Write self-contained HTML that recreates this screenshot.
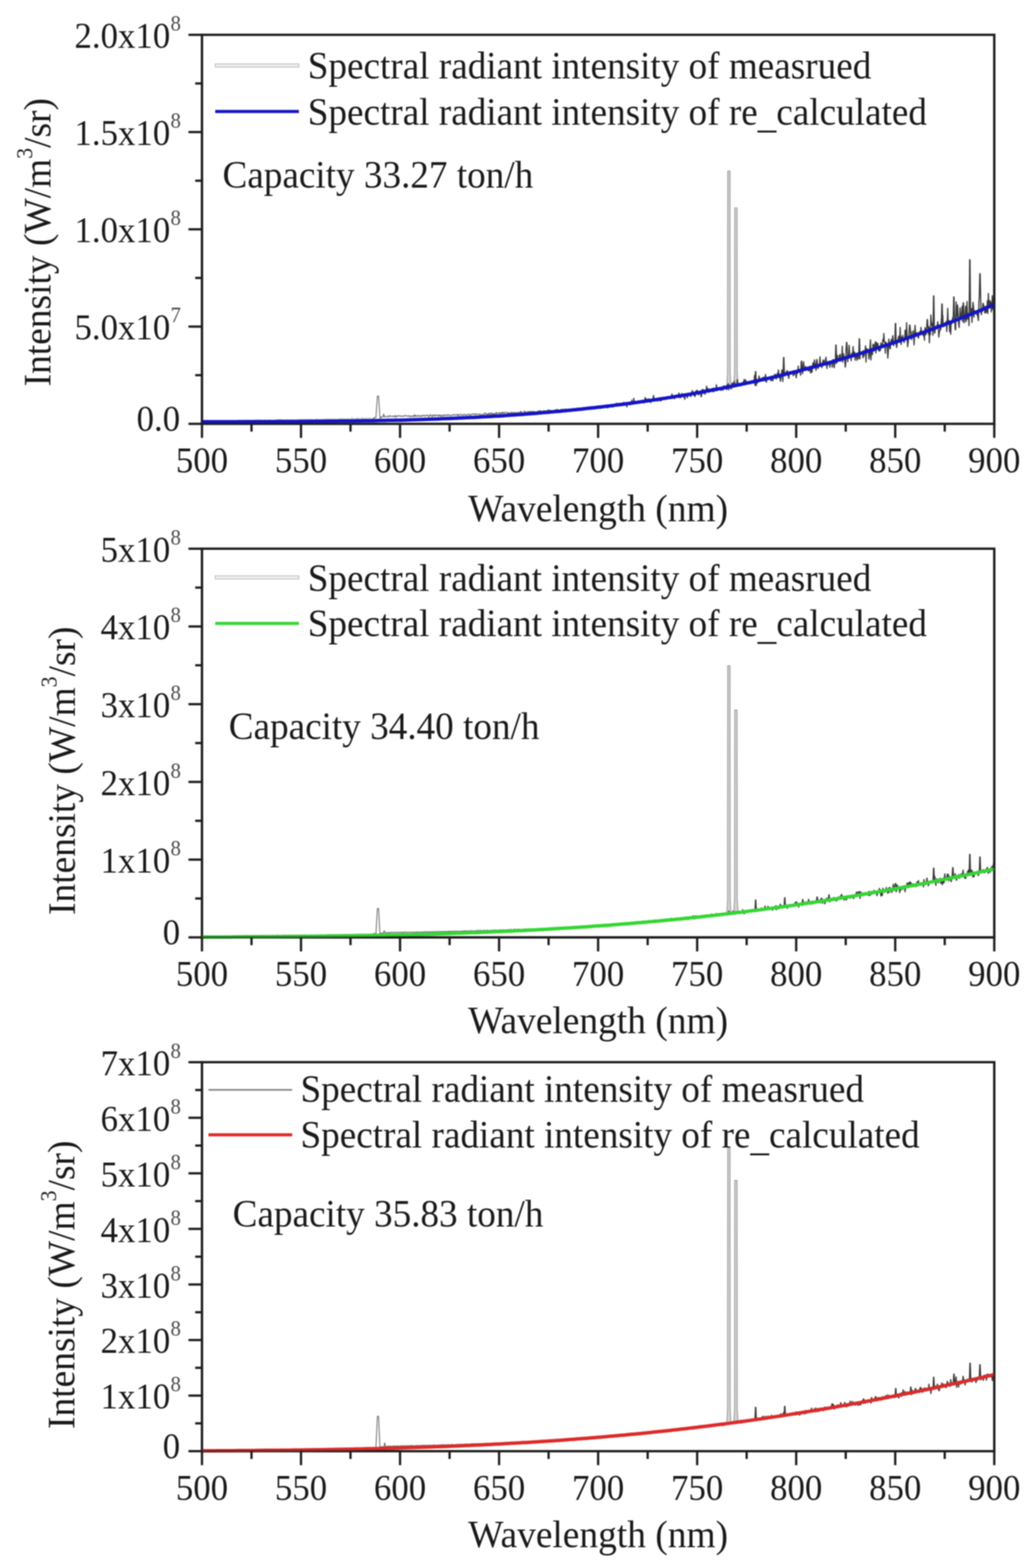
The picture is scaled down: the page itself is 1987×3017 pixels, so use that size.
<!DOCTYPE html><html><head><meta charset="utf-8"><title>Spectral radiant intensity</title><style>html,body{margin:0;padding:0;background:#fff}svg{display:block;filter:blur(0.8px)}</style></head><body>
<svg width="1987" height="3017" viewBox="0 0 1987 3017" font-family="'Liberation Serif', 'Times New Roman', serif">
<rect width="1987" height="3017" fill="#fff"/>
<g><path d="M1397.8,746.3 L1399.4,719.3 L1399.8,329.0 L1404.2,329.0 L1404.6,719.3 L1406.2,746.3" fill="#d4d4d4" stroke="#9a9a9a" stroke-width="1.7" stroke-linejoin="round"/><path d="M1411.3,743.6 L1412.9,716.6 L1413.3,400.0 L1417.7,400.0 L1418.1,716.6 L1419.7,743.6" fill="#d4d4d4" stroke="#9a9a9a" stroke-width="1.7" stroke-linejoin="round"/><polyline points="388.5,815.0 389.5,814.1 390.4,814.1 391.4,815.1 392.3,814.8 393.3,814.9 394.2,814.2 395.2,814.5 396.1,813.9 397.1,815.4 398.0,813.2 399.0,814.2 399.9,813.6 400.9,814.0 401.8,814.1 402.8,813.5 403.7,813.2 404.7,813.8 405.6,813.7 406.6,813.1 407.6,813.9 408.5,814.3 409.5,813.0 410.4,813.6 411.4,814.3 412.3,813.5 413.3,813.2 414.2,813.6 415.2,813.7 416.1,812.7 417.1,812.0 418.0,812.7 419.0,812.9 419.9,812.1 420.9,811.8 421.8,812.4 422.8,811.8 423.7,811.4 424.7,812.1 425.6,812.4 426.6,811.6 427.6,811.6 428.5,811.0 429.5,812.4 430.4,811.9 431.4,811.9 432.3,812.4 433.3,811.2 434.2,810.8 435.2,811.6 436.1,810.1 437.1,810.4 438.0,810.4 439.0,810.5 439.9,810.1 440.9,811.5 441.8,810.1 442.8,810.1 443.7,811.5 444.7,810.1 445.6,810.4 446.6,809.6 447.6,810.3 448.5,810.0 449.5,809.7 450.4,810.4 451.4,809.3 452.3,809.7 453.3,809.2 454.2,809.8 455.2,808.7 456.1,808.9 457.1,809.3 458.0,808.7 459.0,808.2 459.9,807.8 460.9,809.9 461.8,808.2 462.8,808.4 463.7,808.7 464.7,809.2 465.7,807.7 466.6,809.4 467.6,808.2 468.5,807.7 469.5,809.6 470.4,808.7 471.4,809.4 472.3,808.4 473.3,807.5 474.2,807.2 475.2,809.7 476.1,808.9 477.1,808.0 478.0,807.4 479.0,808.2 479.9,809.0 480.9,808.3 481.8,808.5 482.8,808.6 483.8,808.9 484.7,808.2 485.7,808.2 486.6,808.5 487.6,808.6 488.5,809.3 489.5,808.7 490.4,807.6 491.4,808.5 492.3,809.4 493.3,807.5 494.2,808.0 495.2,806.9 496.1,808.3 497.1,808.6 498.0,809.3 499.0,807.4 499.9,806.5 500.9,808.9 501.8,808.7 502.8,807.9 503.8,808.8 504.7,808.5 505.7,808.5 506.6,808.1 507.6,807.5 508.5,808.2 509.5,807.6 510.4,808.5 511.4,808.0 512.3,809.7 513.3,809.2 514.2,807.6 515.2,808.6 516.1,807.8 517.1,807.8 518.0,807.2 519.0,807.6 519.9,807.4 520.9,808.2 521.9,808.6 522.8,808.6 523.8,808.4 524.7,808.9 525.7,808.5 526.6,808.1 527.6,807.9 528.5,808.3 529.5,809.4 530.4,808.1 531.4,807.9 532.3,807.2 533.3,807.6 534.2,808.4 535.2,808.5 536.1,806.5 537.1,807.4 538.0,806.6 539.0,806.4 539.9,808.5 540.9,807.6 541.9,807.6 542.8,807.5 543.8,807.5 544.7,807.7 545.7,807.7 546.6,808.9 547.6,808.0 548.5,808.4 549.5,807.7 550.4,808.2 551.4,807.4 552.3,807.2 553.3,807.6 554.2,807.5 555.2,807.7 556.1,808.1 557.1,807.9 558.0,808.1 559.0,807.4 560.0,807.7 560.9,807.3 561.9,808.7 562.8,807.0 563.8,808.2 564.7,808.2 565.7,807.8 566.6,808.0 567.6,807.4 568.5,808.0 569.5,808.4 570.4,808.2 571.4,806.6 572.3,807.5 573.3,808.4 574.2,807.5 575.2,808.7 576.1,806.2 577.1,808.6 578.0,807.1 579.0,807.1 580.0,808.5 580.9,807.2 581.9,806.7 582.8,807.1 583.8,807.2 584.7,806.7 585.7,807.3 586.6,807.1 587.6,807.5 588.5,806.9 589.5,808.0 590.4,806.7 591.4,807.7 592.3,808.1 593.3,807.0 594.2,806.0 595.2,806.5 596.1,807.6 597.1,806.7 598.0,807.6 599.0,807.3 600.0,807.1 600.9,808.9 601.9,807.0 602.8,807.9 603.8,807.7 604.7,808.2 605.7,808.3 606.6,807.8 607.6,806.4 608.5,805.8 609.5,807.1 610.4,806.2 611.4,807.2 612.3,808.5 613.3,806.9 614.2,806.6 615.2,807.3 616.1,806.7 617.1,806.5 618.1,807.6 619.0,808.0 620.0,807.0 620.9,807.0 621.9,807.1 622.8,806.1 623.8,805.5 624.7,807.1 625.7,806.2 626.6,806.0 627.6,806.2 628.5,805.9 629.5,807.0 630.4,806.1 631.4,805.1 632.3,806.0 633.3,807.1 634.2,806.2 635.2,805.6 636.1,806.3 637.1,807.0 638.1,805.3 639.0,807.5 640.0,806.1 640.9,806.5 641.9,807.5 642.8,805.5 643.8,806.2 644.7,807.4 645.7,805.9 646.6,806.8 647.6,807.9 648.5,806.9 649.5,806.1 650.4,805.8 651.4,806.2 652.3,806.3 653.3,805.9 654.2,806.4 655.2,805.3 656.2,806.1 657.1,806.0 658.1,805.8 659.0,807.0 660.0,806.7 660.9,804.9 661.9,805.8 662.8,806.3 663.8,805.8 664.7,806.5 665.7,805.8 666.6,806.6 667.6,805.8 668.5,807.3 669.5,804.9 670.4,806.4 671.4,807.2 672.3,806.1 673.3,806.2 674.2,805.7 675.2,806.8 676.2,805.5 677.1,802.8 678.1,806.8 679.0,805.5 680.0,806.0 680.9,805.6 681.9,807.2 682.8,806.6 683.8,805.3 684.7,805.7 685.7,804.3 686.6,806.2 687.6,805.4 688.5,803.1 689.5,806.2 690.4,806.3 691.4,805.5 692.3,805.5 693.3,804.7 694.3,805.3 695.2,806.0 696.2,805.2 697.1,803.1 698.1,804.3 699.0,807.7 700.0,805.4 700.9,806.0 701.9,804.7 702.8,805.4 703.8,803.6 704.7,804.4 705.7,804.4 706.6,805.0 707.6,805.1 708.5,804.8 709.5,804.0 710.4,804.6 711.4,805.3 712.4,803.9 713.3,804.7 714.3,804.9 715.2,805.4 716.2,805.1 717.1,805.0 718.1,806.8" fill="none" stroke="#c4c4c4" stroke-width="1.6" stroke-linejoin="round"/><polyline points="718.1,806.8 719.0,803.4 720.0,803.7 720.9,804.3 721.9,803.1 722.8,803.5 723.2,802.6 725.9,762.0 728.2,762.0 730.8,802.6 731.4,804.9 732.4,802.4 733.3,802.8 734.3,801.9 735.2,802.7 736.2,802.3 736.7,802.0 737.7,797.0 738.3,797.0 739.3,802.0 740.0,801.8 740.9,801.6 741.9,802.0 742.8,801.5 743.8,801.7 744.7,800.9 745.7,801.0 746.6,801.8 747.6,801.8 748.5,799.6 749.5,801.1 750.5,800.1 751.4,800.6 752.4,801.4 753.3,801.6 754.3,800.8 755.2,800.7 756.2,800.3 757.1,802.0 758.1,801.4 759.0,800.9 760.0,799.4 760.9,802.9 761.9,800.4 762.8,801.3 763.8,800.4 764.7,801.2 765.7,800.5 766.6,799.4 767.6,800.4 768.5,800.4 769.5,800.4 770.5,801.4 771.4,800.2 772.4,800.9 773.3,801.4 774.3,800.7 775.2,800.9 776.2,800.0 777.1,800.7 778.1,801.1 779.0,799.3 780.0,799.7 780.9,799.4 781.9,800.0 782.8,800.6 783.8,800.9 784.7,800.8 785.7,799.6 786.6,800.4 787.6,801.8 788.5,800.5 789.5,801.7 790.5,800.3 791.4,801.5 792.4,801.6 793.3,800.3 794.3,800.4 795.2,801.9 796.2,799.6 797.1,798.3 798.1,801.7 799.0,798.6 800.0,800.9 800.9,800.7 801.9,800.4 802.8,801.6 803.8,799.0 804.7,799.7 805.7,800.9 806.6,800.4 807.6,801.5 808.6,800.4 809.5,799.2 810.5,801.7 811.4,800.5 812.4,799.9 813.3,799.0 814.3,798.7 815.2,800.4 816.2,800.7 817.1,799.5 818.1,800.3 819.0,800.2 820.0,798.9 820.9,798.3 821.9,799.6 822.8,800.0 823.8,799.3 824.7,801.6 825.7,799.8 826.6,800.8 827.6,797.5 828.6,799.0 829.5,799.6 830.5,799.9 831.4,802.0 832.4,799.0 833.3,798.1 834.3,800.3 835.2,798.9 836.2,798.9 837.1,801.0 838.1,798.6 839.0,798.2 840.0,799.2 840.9,799.5 841.9,798.7 842.8,800.9 843.8,799.3 844.7,798.3 845.7,800.5 846.7,798.3 847.6,799.7 848.6,801.3 849.5,799.3 850.5,800.1 851.4,798.9 852.4,800.3 853.3,798.1 854.3,799.8 855.2,798.7 856.2,799.6 857.1,799.3 858.1,797.9 859.0,798.8 860.0,799.3 860.9,800.2 861.9,797.8 862.8,798.2 863.8,799.2 864.8,798.6 865.7,799.8 866.7,799.8 867.6,799.6 868.6,798.4 869.5,798.4 870.5,799.4 871.4,797.9 872.4,797.8 873.3,798.4 874.3,797.5 875.2,798.8 876.2,798.6 877.1,798.0 878.1,798.5 879.0,797.6 880.0,799.6 880.9,797.0 881.9,799.1 882.8,798.5 883.8,799.6 884.8,797.6 885.7,797.0 886.7,797.1 887.6,797.3 888.6,799.7 889.5,798.9 890.5,798.5 891.4,799.0 892.4,796.9 893.3,797.8 894.3,798.0 895.2,797.4 896.2,798.8 897.1,798.8 898.1,798.7 899.0,797.3 900.0,797.4 900.9,797.1 901.9,796.6 902.9,799.0 903.8,798.2 904.8,797.4 905.7,798.9 906.7,798.1 907.6,796.5 908.6,796.3 909.5,796.3 910.5,797.3 911.4,797.6 912.4,796.2 913.3,797.7 914.3,796.9 915.2,795.9 916.2,797.5 917.1,797.8 918.1,797.1 919.0,796.5 920.0,796.5 920.9,796.8 921.9,796.4 922.9,798.6 923.8,797.8 924.8,796.7 925.7,797.8 926.7,798.2 927.6,798.0 928.6,797.6 929.5,796.8 930.5,797.7 931.4,796.3 932.4,794.8 933.3,796.7 934.3,795.2 935.2,796.1 936.2,797.6 937.1,796.6 938.1,797.3 939.0,795.5 940.0,797.4 941.0,794.8 941.9,795.6 942.9,798.2 943.8,795.3 944.8,794.4 945.7,796.8 946.7,794.9 947.6,797.8 948.6,795.6 949.5,797.6 950.5,795.3 951.4,797.6 952.4,798.5 953.3,795.2 954.3,793.2 955.2,796.2 956.2,794.7 957.1,795.4 958.1,795.8 959.0,794.8 960.0,793.6 961.0,796.6 961.9,794.7 962.9,794.9 963.8,796.7 964.8,793.5 965.7,793.1 966.7,796.1 967.6,793.2 968.6,795.0 969.5,795.2 970.5,793.4 971.4,794.7 972.4,794.5 973.3,793.2 974.3,793.4 975.2,793.8 976.2,796.2 977.1,796.3 978.1,793.4 979.0,795.6 980.0,794.4 981.0,795.6 981.9,794.7 982.9,795.8 983.8,792.6 984.8,795.4 985.7,794.4 986.7,794.4 987.6,792.9 988.6,795.7 989.5,794.2 990.5,794.3 991.4,793.5 992.4,793.5 993.3,794.4 994.3,793.6 995.2,794.3 996.2,793.3 997.1,793.9 998.1,794.4 999.1,793.7 1000.0,793.2 1001.0,791.1 1001.9,794.1 1002.9,793.2 1003.8,791.9 1004.8,795.7 1005.7,795.2 1006.7,794.6 1007.6,793.4 1008.6,790.6 1009.5,792.7 1010.5,791.8 1011.4,793.3 1012.4,795.7 1013.3,795.5 1014.3,791.8 1015.2,792.7 1016.2,794.2 1017.1,791.6 1018.1,794.4 1019.1,791.4 1020.0,791.0 1021.0,793.4 1021.9,793.7 1022.9,791.5 1023.8,793.6 1024.8,791.4 1025.7,793.6 1026.7,791.4 1027.6,792.1 1028.6,792.6 1029.5,793.1 1030.5,791.8 1031.4,794.1 1032.4,792.3 1033.3,792.3 1034.3,791.1 1035.2,793.2 1036.2,789.8 1037.2,792.0 1038.1,792.9 1039.1,790.0 1040.0,789.7 1041.0,791.7 1041.9,792.4 1042.9,791.3 1043.8,792.1 1044.8,791.6 1045.7,789.5 1046.7,790.7 1047.6,790.9 1048.6,790.6 1049.5,791.0 1050.5,790.0 1051.4,789.9 1052.4,791.2 1053.3,790.6 1054.3,788.0 1055.2,790.2 1056.2,790.8 1057.2,788.2 1058.1,790.4 1059.1,791.6 1060.0,789.6 1061.0,791.3 1061.9,790.8 1062.9,789.8 1063.8,790.2 1064.8,790.9 1065.7,790.6 1066.7,790.6 1067.6,788.5 1068.6,790.6 1069.5,790.4 1070.5,787.3 1071.4,790.2 1072.4,787.8 1073.3,788.0 1074.3,789.6 1075.3,791.0 1076.2,788.8 1077.2,788.5 1078.1,788.0 1079.1,789.0 1080.0,787.6 1081.0,787.4 1081.9,790.1 1082.9,787.2 1083.8,788.6 1084.8,789.4 1085.7,789.0 1086.7,786.4 1087.6,787.4 1088.6,790.5 1089.5,788.3 1090.5,788.5 1091.4,788.4 1092.4,788.8 1093.3,789.8 1094.3,787.0 1095.3,789.0 1096.2,788.3 1097.2,788.5 1098.1,788.6 1099.1,786.8 1100.0,787.2 1101.0,788.3 1101.9,788.6 1102.9,788.0 1103.8,786.2 1104.8,787.1 1105.7,786.9 1106.7,787.5 1107.6,787.3 1108.6,786.7 1109.5,789.1 1110.5,784.9 1111.4,787.7 1112.4,787.4 1113.4,785.0 1114.3,786.3 1115.3,786.4 1116.2,787.1 1117.2,788.2 1118.1,786.0 1119.1,784.8 1120.0,787.2 1121.0,784.4 1121.9,787.3 1122.9,786.7 1123.8,785.2 1124.8,785.7 1125.7,784.8 1126.7,786.4 1127.6,786.7 1128.6,787.6 1129.5,786.8 1130.5,786.5 1131.5,786.9 1132.4,784.7 1133.4,785.8 1134.3,787.3 1135.3,781.9 1136.2,785.8 1137.2,786.2 1138.1,783.1 1139.1,783.1 1140.0,785.8 1141.0,786.1 1141.9,785.5 1142.9,782.9 1143.8,784.5 1144.8,785.0 1145.7,784.0 1146.7,782.4 1147.6,785.5 1148.6,784.2 1149.5,785.3 1150.5,780.9" fill="none" stroke="#6a6a6a" stroke-width="1.7" stroke-linejoin="round"/><polyline points="1150.5,780.9 1151.5,781.3 1152.4,782.2 1153.4,783.4 1154.3,782.3 1155.3,785.6 1156.2,782.6 1157.2,784.4 1158.1,784.3 1159.1,783.4 1160.0,782.9 1161.0,781.6 1161.9,781.4 1162.9,781.8 1163.8,783.2 1164.8,781.0 1165.7,781.9 1166.7,780.2 1167.6,782.7 1168.6,784.9 1169.5,781.9 1170.5,779.9 1171.5,780.5 1172.4,781.2 1173.4,779.7 1174.3,780.1 1175.3,780.0 1176.2,781.2 1177.2,780.3 1178.1,780.0 1179.1,783.3 1180.0,781.5 1181.0,779.8 1181.9,778.5 1182.9,778.8 1183.8,778.9 1184.8,778.8 1185.7,775.9 1186.7,778.9 1187.6,777.7 1188.6,776.4 1189.6,778.8 1190.5,778.4 1191.5,777.2 1192.4,776.2 1193.4,778.0 1194.3,781.0 1195.3,778.0 1196.2,779.7 1197.2,776.4 1198.1,776.1 1199.1,780.0 1200.0,774.2 1201.0,779.8 1201.9,775.3 1202.9,777.1 1203.8,778.3 1204.8,775.4 1205.7,782.9 1206.7,776.3 1207.7,775.7 1208.6,774.3 1209.6,775.0 1210.5,775.8 1211.5,775.9 1212.4,779.3 1213.4,774.1 1214.3,776.6 1215.3,770.0 1216.2,775.5 1217.2,774.9 1218.1,777.6 1219.1,766.3 1220.0,775.8 1221.0,774.4 1221.9,774.2 1222.9,773.6 1223.8,773.7 1224.8,775.2 1225.7,772.6 1226.7,776.2 1227.7,773.8 1228.6,775.5 1229.6,775.1 1230.5,775.2 1231.5,774.7 1232.4,773.2 1233.4,770.9 1234.3,772.0 1235.3,772.3 1236.2,770.5 1237.2,773.9 1238.1,775.5 1239.1,772.8 1240.0,772.5 1241.0,764.8 1241.9,768.5 1242.9,773.7 1243.8,767.7 1244.8,769.0 1245.8,769.9 1246.7,770.5 1247.7,767.2 1248.6,770.7 1249.6,771.4 1250.5,770.3 1251.5,774.7 1252.4,769.5 1253.4,770.3 1254.3,769.5 1255.3,769.3 1256.2,765.1 1257.2,761.2 1258.1,771.1 1259.1,767.9 1260.0,771.7 1261.0,768.4 1261.9,770.2 1262.9,768.6 1263.8,769.6 1264.8,772.0 1265.8,770.1 1266.7,768.0 1267.7,767.0 1268.6,770.3 1269.6,771.2 1270.5,769.0 1271.5,771.1 1272.4,768.3 1273.4,768.5 1274.3,765.6 1275.3,765.2 1276.2,765.4 1277.2,768.1 1278.1,766.2 1279.1,766.6 1280.0,768.5 1281.0,764.4 1281.9,765.6 1282.9,766.5 1283.8,763.1 1284.8,764.0 1285.8,763.7 1286.7,763.0 1287.7,763.6 1288.6,766.9 1289.6,765.2 1290.5,766.6 1291.5,765.6 1292.4,758.2 1293.4,763.3 1294.3,761.3 1295.3,761.4 1296.2,761.9 1297.2,767.2 1298.1,761.6 1299.1,762.1 1300.0,763.2 1301.0,760.3 1301.9,761.7 1302.9,763.8 1303.9,760.0 1304.8,762.6 1305.8,756.2 1306.7,764.5 1307.7,765.5 1308.6,763.2 1309.6,763.1 1310.5,764.6 1311.5,757.1 1312.4,761.1 1313.4,760.2 1314.3,758.5 1315.3,760.6 1316.2,765.7 1317.2,768.4 1318.1,759.5 1319.1,760.5 1320.0,758.6 1321.0,759.1 1322.0,765.3 1322.9,762.5 1323.9,760.8 1324.8,757.4 1325.8,757.8 1326.7,757.7 1327.7,762.0 1328.6,763.1 1329.6,759.1 1330.5,758.4 1331.5,751.4 1332.4,756.7 1333.4,757.6 1334.3,759.3 1335.3,758.6 1336.2,762.8 1337.2,762.2 1338.1,756.5 1339.1,751.9 1340.0,756.6 1341.0,750.8 1342.0,757.6 1342.9,756.3 1343.9,760.2 1344.8,754.1 1345.8,755.4 1346.7,757.5 1347.7,754.6 1348.6,763.6 1349.6,760.7 1350.5,749.7 1351.5,752.4 1352.4,749.4 1353.4,757.1 1354.3,756.0 1355.3,750.7 1356.2,758.6 1357.2,753.6 1358.1,751.1 1359.1,743.2 1360.0,750.9 1361.0,752.5 1362.0,747.3 1362.9,754.0 1363.9,754.5 1364.8,751.0 1365.8,748.5 1366.7,751.3 1367.7,748.9 1368.6,751.9 1369.6,753.1 1370.5,747.6 1371.5,747.1 1372.4,754.0 1373.4,747.3 1374.3,752.1 1375.3,752.0 1376.2,749.8 1377.2,748.0 1378.1,740.4 1379.1,751.8 1380.1,748.2 1381.0,748.4 1382.0,748.1 1382.9,748.1 1383.9,748.3 1384.8,746.5 1385.8,747.3 1386.7,751.3 1387.7,748.6 1388.6,746.2 1389.6,747.0 1390.5,751.0 1391.5,745.4 1392.4,742.1 1393.4,744.1 1394.3,746.2 1395.3,745.9 1396.2,745.0 1397.2,749.5 1398.2,741.2 1399.1,748.7 1400.1,740.8 1401.0,738.2 1402.0,750.0 1402.9,742.7 1403.9,743.1 1404.8,742.5 1405.8,741.9 1406.7,748.6 1407.7,742.5 1408.6,736.7 1409.6,745.0 1410.5,737.6 1411.5,743.2 1412.4,733.5 1413.4,741.4 1414.3,738.6 1415.3,743.2 1416.2,743.0 1417.2,739.6 1418.2,730.3 1419.1,736.4 1420.1,738.3 1421.0,739.9 1422.0,741.0 1422.9,739.5 1423.9,740.2 1424.8,742.8 1425.8,739.4 1426.7,739.6 1427.7,739.5 1428.6,739.8 1429.6,734.6 1430.5,736.7 1431.5,730.0 1432.4,739.5 1433.4,740.3 1434.3,731.0 1435.3,736.8 1436.2,738.0 1437.2,737.4 1438.2,734.4 1439.1,735.8 1440.1,738.8 1441.0,737.2 1442.0,737.6 1442.9,735.3 1443.9,738.5 1444.8,735.8 1445.8,733.3 1446.7,734.8 1447.7,737.1 1448.6,736.1 1449.6,733.9 1450.5,732.8 1451.5,722.1 1452.2,741.8 1453.2,715.0 1453.8,715.0 1454.8,741.8 1455.3,732.2 1456.3,737.4 1457.2,731.7 1458.2,735.2 1459.1,733.0 1460.1,723.4 1461.0,728.8 1462.0,731.3 1462.9,729.0 1463.9,731.8 1464.8,729.8 1465.8,726.9 1466.7,732.9 1467.7,729.5 1468.6,725.8 1469.6,725.8 1470.5,726.8 1471.5,733.4 1472.4,720.4 1473.4,727.1 1474.3,735.3 1475.3,726.7 1476.3,727.0 1477.2,729.4 1478.2,728.2 1479.1,728.4 1480.1,726.6 1481.0,728.4 1482.0,725.2 1482.9,732.7 1483.9,727.3 1484.8,731.5 1485.8,727.5 1486.7,732.7 1487.7,725.5 1488.6,725.7 1489.6,724.9 1490.5,719.8 1491.5,728.2 1492.4,721.5 1493.4,729.1 1494.4,725.5 1495.3,718.2 1496.3,726.3 1497.2,711.9 1498.2,720.6 1499.1,726.8 1500.1,722.9 1501.0,733.6 1502.0,728.7 1502.9,722.5 1503.9,712.0 1504.8,716.9 1505.8,734.2 1506.2,721.1 1507.2,688.0 1507.8,688.0 1508.8,721.1 1509.6,723.3 1510.5,718.4 1511.5,717.0 1512.5,716.4 1513.4,714.4 1514.4,712.9 1515.3,720.1 1516.3,723.1 1517.2,728.0 1518.2,719.6 1519.1,715.2 1520.1,716.3 1521.0,717.0 1522.0,718.5 1522.9,719.3 1523.9,717.8 1524.8,715.0 1525.8,722.8 1526.7,713.3 1527.7,721.2 1528.6,716.1 1529.6,717.7 1530.5,716.4 1531.5,726.9 1532.5,719.0 1533.4,715.2 1534.4,718.2 1535.3,704.4 1536.3,715.2 1537.2,715.9 1538.2,715.2 1539.1,717.0 1540.1,722.1 1541.0,696.7 1542.0,694.5 1542.9,709.7 1543.9,719.0 1544.8,704.3 1545.8,696.1 1546.7,709.5 1547.7,708.7 1548.6,708.7 1549.6,704.8 1550.5,712.9 1551.5,711.4 1552.5,708.0 1553.4,706.3 1554.4,710.1 1555.3,713.8 1556.3,705.9 1557.2,712.6 1558.2,704.4 1559.1,717.6 1560.1,716.0 1561.0,707.8 1562.0,716.0 1562.9,703.6 1563.9,697.9 1564.8,698.7 1565.8,708.2 1566.7,692.4 1567.7,703.2 1568.6,701.4 1569.6,712.6 1570.6,694.5 1571.5,691.5 1572.5,701.5 1573.4,709.3 1574.4,705.1 1575.3,702.1 1576.3,703.0 1577.2,686.7 1578.2,699.1 1579.1,699.9 1580.1,702.5 1581.0,707.4 1582.0,698.8 1582.9,695.2 1583.9,692.5 1584.8,700.8 1585.8,700.5 1586.7,693.9 1587.7,693.7 1588.7,687.5 1589.6,696.3 1590.6,709.0 1591.5,696.3 1592.5,702.1 1593.4,698.9 1594.4,698.5 1595.3,699.8 1596.3,706.7 1597.2,700.8 1598.2,695.5 1599.1,696.9 1600.1,698.1 1601.0,706.6 1602.0,692.8 1602.9,691.8 1603.9,698.9 1604.8,707.5 1605.8,696.3 1606.7,698.9 1607.7,664.0 1608.3,664.0 1609.3,698.9 1609.6,697.6 1610.6,683.7 1611.5,693.6 1612.5,693.9 1613.4,694.4 1614.4,683.8 1615.3,683.4 1616.3,681.9 1617.2,695.0 1618.2,691.8 1619.1,691.1 1620.1,666.1 1621.0,696.9 1622.0,680.4 1622.9,682.3 1623.9,691.9 1624.8,690.1 1625.8,706.5 1626.8,700.8 1627.3,673.1 1628.3,659.0 1628.9,659.0 1629.9,673.1 1630.6,696.2 1631.5,686.0 1632.5,686.6 1633.4,664.3 1634.4,682.1 1635.3,687.4 1636.3,683.9 1637.2,694.1 1638.2,680.0 1639.1,684.1 1640.1,679.5 1641.0,666.9 1642.0,685.5 1642.9,684.5 1643.9,677.5 1644.8,693.2 1645.8,683.6 1646.8,681.9 1647.7,687.6 1648.7,693.3 1649.6,681.3 1650.6,679.3 1651.5,685.0 1651.7,690.5 1652.7,652.0 1653.3,652.0 1654.3,690.5 1654.4,677.3 1655.3,680.6 1656.3,681.8 1657.2,680.8 1658.2,679.8 1659.1,681.4 1660.1,688.5 1661.0,674.4 1662.0,685.4 1662.9,679.3 1663.9,678.9 1664.8,665.4 1665.8,696.6 1666.8,670.4 1667.7,672.9 1668.7,672.0 1669.6,676.5 1670.6,679.3 1671.5,690.8 1672.5,684.0 1673.4,667.7 1674.4,653.8 1675.3,692.8 1676.3,673.9 1677.2,677.5 1678.2,682.1 1679.1,662.1 1680.1,675.5 1681.0,663.8 1682.0,675.0 1682.9,663.2 1683.9,657.7 1684.9,679.3 1685.8,658.9 1686.8,663.7 1687.7,666.5 1688.7,660.6 1689.6,671.9 1690.6,675.2 1691.5,675.6 1692.5,667.9 1693.4,674.3 1694.4,659.8 1695.3,669.3 1696.3,661.9 1697.2,668.2 1698.2,653.2 1699.1,657.3 1700.1,641.6 1701.0,657.8 1702.0,658.5 1703.0,679.6 1703.9,657.9 1704.9,662.4 1705.8,664.5 1706.8,669.3 1707.7,689.1 1708.7,675.4 1709.6,652.4 1710.6,668.6 1711.5,666.4 1712.5,671.3 1713.4,657.7 1714.4,653.4 1715.3,661.5 1716.3,653.1 1717.2,646.0 1718.2,656.4 1719.1,665.2 1720.1,657.3 1721.0,658.1 1721.2,659.1 1722.2,622.5 1722.8,622.5 1723.8,659.1 1723.9,663.5 1724.9,668.7 1725.8,659.7 1726.8,657.7 1727.7,651.5 1728.7,646.7 1729.6,652.3 1730.6,658.2 1731.5,630.0 1732.5,657.5 1733.4,662.8 1734.4,648.5 1735.3,651.3 1736.3,645.5 1737.2,654.5 1738.2,655.9 1739.1,659.2 1740.1,654.3 1741.0,635.2 1742.0,643.3 1743.0,653.3 1743.9,620.8 1744.9,651.7 1745.8,667.0 1746.8,659.4 1747.7,652.0 1748.7,637.4 1749.7,625.5 1750.3,625.5 1751.3,637.4 1751.5,643.8 1752.5,638.2 1753.4,653.6 1754.4,646.1 1755.3,648.5 1756.3,636.5 1757.2,643.0 1758.2,663.6 1759.1,647.1 1760.1,626.0 1761.1,640.3 1762.0,647.3 1763.0,642.7 1763.9,640.1 1764.9,642.3 1765.8,648.7 1766.8,650.5 1767.7,640.1 1768.7,642.2 1769.6,637.6 1770.6,644.6 1771.5,630.0 1772.5,639.4 1773.4,638.2 1774.4,638.0 1775.3,645.1 1776.3,646.3 1777.2,637.7 1778.2,654.6 1779.2,630.3 1780.1,635.3 1781.1,644.1 1782.0,634.1 1782.4,630.9 1783.4,615.0 1784.0,615.0 1785.0,630.9 1785.8,643.2 1786.8,628.5 1787.7,659.6 1788.7,631.3 1789.6,643.9 1790.6,606.2 1791.5,618.4 1792.5,626.9 1793.4,622.4 1794.4,645.3 1794.7,638.3 1795.7,569.5 1796.3,569.5 1797.3,638.3 1798.2,641.0 1799.2,628.8 1800.1,629.6 1801.1,628.3 1802.0,626.3 1803.0,625.5 1803.9,618.8 1804.9,629.2 1805.8,648.7 1806.8,639.6 1807.7,635.9 1808.7,631.7 1809.6,634.4 1810.6,613.6 1810.7,624.2 1811.7,584.8 1812.3,584.8 1813.3,624.2 1813.4,606.8 1814.4,628.5 1815.3,624.1 1816.3,628.0 1817.2,621.5 1818.2,622.0 1819.2,621.3 1820.1,618.3 1821.1,638.0 1822.0,621.5 1823.0,593.2 1823.9,622.0 1824.9,616.3 1825.8,620.6 1826.8,638.2 1827.7,623.1 1828.7,643.3 1829.6,619.4 1830.6,623.0 1831.5,621.5 1832.5,610.6 1833.4,618.9 1833.5,612.6 1834.5,571.5 1835.1,571.5 1836.1,612.6 1836.3,611.4 1837.3,633.3 1838.2,634.6 1839.2,581.0 1840.1,610.1 1841.1,608.6 1842.0,586.9 1843.0,608.8 1843.9,621.5 1844.9,630.0 1845.8,610.5 1846.8,592.4 1847.7,606.1 1848.7,613.4 1849.6,614.1 1850.6,589.4 1851.5,618.8 1851.7,606.9 1852.7,582.7 1853.3,582.7 1854.3,606.9 1854.4,621.3 1855.3,615.9 1856.3,613.5 1857.3,589.2 1858.2,618.9 1859.2,611.0 1860.1,580.1 1861.1,614.0 1862.0,611.8 1863.0,603.2 1863.9,626.7 1864.2,605.0 1865.2,500.0 1865.8,500.0 1866.8,605.0 1867.7,603.6 1868.7,593.7 1869.6,620.4 1870.6,600.7 1871.5,581.6 1872.5,589.3 1873.4,610.2 1874.4,597.4 1875.4,599.9 1876.3,600.9 1877.3,600.7 1878.2,600.4 1879.2,606.2 1880.1,597.8 1881.1,611.5 1882.0,616.8 1883.0,581.1 1883.7,570.6 1884.7,526.6 1885.3,526.6 1886.3,570.6 1886.8,600.3 1887.7,605.4 1888.7,598.2 1889.6,598.7 1890.6,583.5 1891.5,584.8 1892.5,590.2 1893.5,591.1 1894.4,602.2 1895.4,589.4 1896.3,602.1 1897.3,589.5 1898.2,600.1 1899.2,578.6 1900.1,603.3 1901.1,564.6 1902.0,585.3 1902.7,590.8 1903.7,578.6 1904.3,578.6 1905.3,590.8 1905.8,581.4 1906.8,600.4 1907.7,592.1 1908.7,568.9 1909.6,594.9 1910.6,578.2 1911.5,574.0 1912.5,585.6" fill="none" stroke="#3a3a3a" stroke-width="2.3" stroke-linejoin="round"/><polyline points="388.5,811.5 396.1,811.5 403.7,811.5 411.4,811.5 419.0,811.5 426.6,811.5 434.2,811.5 441.8,811.5 449.5,811.4 457.1,811.4 464.7,811.4 472.3,811.4 479.9,811.4 487.6,811.3 495.2,811.3 502.8,811.3 510.4,811.3 518.0,811.2 525.7,811.2 533.3,811.1 540.9,811.1 548.5,811.0 556.1,811.0 563.8,810.9 571.4,810.9 579.0,810.8 586.6,810.7 594.2,810.7 601.9,810.6 609.5,810.5 617.1,810.4 624.7,810.4 632.3,810.3 640.0,810.3 647.6,810.2 655.2,810.1 662.8,810.1 670.4,810.0 678.1,809.9 685.7,809.8 693.3,809.7 700.9,809.6 708.5,809.5 716.2,809.4 723.8,809.2 731.4,809.1 739.0,809.0 746.6,808.8 754.3,808.7 761.9,808.5 769.5,808.4 777.1,808.2 784.7,807.9 792.4,807.7 800.0,807.5 807.6,807.2 815.2,807.0 822.8,806.7 830.5,806.5 838.1,806.2 845.7,805.9 853.3,805.6 860.9,805.3 868.6,805.0 876.2,804.7 883.8,804.3 891.4,804.0 899.0,803.6 906.7,803.3 914.3,802.9 921.9,802.5 929.5,802.1 937.1,801.7 944.8,801.2 952.4,800.8 960.0,800.4 967.6,799.9 975.2,799.3 982.9,798.8 990.5,798.3 998.1,797.7 1005.7,797.2 1013.3,796.6 1021.0,796.0 1028.6,795.4 1036.2,794.7 1043.8,794.1 1051.4,793.5 1059.1,792.8 1066.7,792.1 1074.3,791.4 1081.9,790.7 1089.5,790.0 1097.2,789.2 1104.8,788.5 1112.4,787.7 1120.0,786.9 1127.6,786.1 1135.3,785.3 1142.9,784.4 1150.5,783.6 1158.1,782.7 1165.7,781.8 1173.4,780.9 1181.0,779.9 1188.6,779.0 1196.2,778.0 1203.8,777.0 1211.5,776.0 1219.1,775.0 1226.7,774.0 1234.3,772.9 1241.9,771.8 1249.6,770.7 1257.2,769.6 1264.8,768.4 1272.4,767.3 1280.0,766.1 1287.7,764.9 1295.3,763.7 1302.9,762.4 1310.5,761.2 1318.1,759.9 1325.8,758.6 1333.4,757.3 1341.0,755.9 1348.6,754.5 1356.2,753.1 1363.9,751.7 1371.5,750.3 1379.1,748.8 1386.7,747.4 1394.3,745.8 1402.0,744.3 1409.6,742.8 1417.2,741.2 1424.8,739.6 1432.4,738.0 1440.1,736.3 1447.7,734.7 1455.3,733.0 1462.9,731.3 1470.5,729.5 1478.2,727.8 1485.8,726.0 1493.4,724.2 1501.0,722.4 1508.6,720.5 1516.3,718.6 1523.9,716.7 1531.5,714.8 1539.1,712.8 1546.7,710.9 1554.4,708.9 1562.0,706.8 1569.6,704.8 1577.2,702.7 1584.8,700.6 1592.5,698.5 1600.1,696.3 1607.7,694.1 1615.3,691.9 1622.9,689.7 1630.6,687.5 1638.2,685.2 1645.8,682.9 1653.4,680.5 1661.0,678.2 1668.7,675.8 1676.3,673.4 1683.9,671.0 1691.5,668.5 1699.1,666.0 1706.8,663.5 1714.4,661.0 1722.0,658.4 1729.6,655.8 1737.2,653.2 1744.9,650.6 1752.5,647.9 1760.1,645.2 1767.7,642.5 1775.3,639.8 1783.0,637.0 1790.6,634.2 1798.2,631.4 1805.8,628.6 1813.4,625.7 1821.1,622.8 1828.7,619.9 1836.3,616.9 1843.9,614.0 1851.5,611.0 1859.2,607.9 1866.8,604.9 1874.4,601.8 1882.0,598.7 1889.6,595.6 1897.3,592.5 1904.9,589.3 1912.5,586.1" fill="none" stroke="#1414c8" stroke-width="6.5" stroke-linejoin="round"/><path d="M388.5,815.5 V67.0 H1912.5 V815.5 H388.5" fill="none" stroke="#1e1e1e" stroke-width="4.6"/><polyline points="388.5,811.5 396.1,811.5 403.7,811.5 411.4,811.5 419.0,811.5 426.6,811.5 434.2,811.5 441.8,811.5 449.5,811.4 457.1,811.4 464.7,811.4 472.3,811.4 479.9,811.4 487.6,811.3 495.2,811.3 502.8,811.3 510.4,811.3 518.0,811.2 525.7,811.2 533.3,811.1 540.9,811.1 548.5,811.0 556.1,811.0 563.8,810.9 571.4,810.9 579.0,810.8 586.6,810.7 594.2,810.7 601.9,810.6 609.5,810.5 617.1,810.4 624.7,810.4 632.3,810.3 640.0,810.3 647.6,810.2 655.2,810.1 662.8,810.1 670.4,810.0 678.1,809.9 685.7,809.8 693.3,809.7 700.9,809.6 708.5,809.5 716.2,809.4 723.8,809.2 731.4,809.1 739.0,809.0 746.6,808.8 754.3,808.7 761.9,808.5 769.5,808.4 777.1,808.2 784.7,807.9 792.4,807.7 800.0,807.5 807.6,807.2 815.2,807.0 822.8,806.7 830.5,806.5 838.1,806.2 845.7,805.9 853.3,805.6 860.9,805.3 868.6,805.0 876.2,804.7 883.8,804.3 891.4,804.0 899.0,803.6 906.7,803.3 914.3,802.9 921.9,802.5 929.5,802.1 937.1,801.7 944.8,801.2 952.4,800.8 960.0,800.4 967.6,799.9 975.2,799.3 982.9,798.8 990.5,798.3 998.1,797.7 1005.7,797.2 1013.3,796.6 1021.0,796.0 1028.6,795.4 1036.2,794.7 1043.8,794.1 1051.4,793.5 1059.1,792.8 1066.7,792.1 1074.3,791.4 1081.9,790.7 1089.5,790.0 1097.2,789.2 1104.8,788.5 1112.4,787.7 1120.0,786.9 1127.6,786.1 1135.3,785.3 1142.9,784.4 1150.5,783.6 1158.1,782.7 1165.7,781.8 1173.4,780.9 1181.0,779.9 1188.6,779.0 1196.2,778.0 1203.8,777.0 1211.5,776.0 1219.1,775.0 1226.7,774.0 1234.3,772.9 1241.9,771.8 1249.6,770.7 1257.2,769.6 1264.8,768.4 1272.4,767.3 1280.0,766.1 1287.7,764.9 1295.3,763.7 1302.9,762.4 1310.5,761.2 1318.1,759.9 1325.8,758.6 1333.4,757.3 1341.0,755.9 1348.6,754.5 1356.2,753.1 1363.9,751.7 1371.5,750.3 1379.1,748.8 1386.7,747.4 1394.3,745.8 1402.0,744.3 1409.6,742.8 1417.2,741.2 1424.8,739.6 1432.4,738.0 1440.1,736.3 1447.7,734.7 1455.3,733.0 1462.9,731.3 1470.5,729.5 1478.2,727.8 1485.8,726.0 1493.4,724.2 1501.0,722.4 1508.6,720.5 1516.3,718.6 1523.9,716.7 1531.5,714.8 1539.1,712.8 1546.7,710.9 1554.4,708.9 1562.0,706.8 1569.6,704.8 1577.2,702.7 1584.8,700.6 1592.5,698.5 1600.1,696.3 1607.7,694.1 1615.3,691.9 1622.9,689.7 1630.6,687.5 1638.2,685.2 1645.8,682.9 1653.4,680.5 1661.0,678.2 1668.7,675.8 1676.3,673.4 1683.9,671.0 1691.5,668.5 1699.1,666.0 1706.8,663.5 1714.4,661.0 1722.0,658.4 1729.6,655.8 1737.2,653.2 1744.9,650.6 1752.5,647.9 1760.1,645.2 1767.7,642.5 1775.3,639.8 1783.0,637.0 1790.6,634.2 1798.2,631.4 1805.8,628.6 1813.4,625.7 1821.1,622.8 1828.7,619.9 1836.3,616.9 1843.9,614.0 1851.5,611.0 1859.2,607.9 1866.8,604.9 1874.4,601.8 1882.0,598.7 1889.6,595.6 1897.3,592.5 1904.9,589.3 1912.5,586.1" fill="none" stroke="#1414c8" stroke-opacity="0.45" stroke-width="6.5" stroke-linejoin="round"/><line x1="362.5" y1="815.5" x2="388.5" y2="815.5" stroke="#1e1e1e" stroke-width="4.4"/><line x1="375.5" y1="721.9" x2="388.5" y2="721.9" stroke="#1e1e1e" stroke-width="4.4"/><line x1="362.5" y1="628.4" x2="388.5" y2="628.4" stroke="#1e1e1e" stroke-width="4.4"/><line x1="375.5" y1="534.8" x2="388.5" y2="534.8" stroke="#1e1e1e" stroke-width="4.4"/><line x1="362.5" y1="441.2" x2="388.5" y2="441.2" stroke="#1e1e1e" stroke-width="4.4"/><line x1="375.5" y1="347.7" x2="388.5" y2="347.7" stroke="#1e1e1e" stroke-width="4.4"/><line x1="362.5" y1="254.1" x2="388.5" y2="254.1" stroke="#1e1e1e" stroke-width="4.4"/><line x1="375.5" y1="160.6" x2="388.5" y2="160.6" stroke="#1e1e1e" stroke-width="4.4"/><line x1="362.5" y1="67.0" x2="388.5" y2="67.0" stroke="#1e1e1e" stroke-width="4.4"/><line x1="388.5" y1="815.5" x2="388.5" y2="842.5" stroke="#1e1e1e" stroke-width="4.4"/><line x1="483.8" y1="815.5" x2="483.8" y2="830.5" stroke="#1e1e1e" stroke-width="4.4"/><line x1="579.0" y1="815.5" x2="579.0" y2="842.5" stroke="#1e1e1e" stroke-width="4.4"/><line x1="674.2" y1="815.5" x2="674.2" y2="830.5" stroke="#1e1e1e" stroke-width="4.4"/><line x1="769.5" y1="815.5" x2="769.5" y2="842.5" stroke="#1e1e1e" stroke-width="4.4"/><line x1="864.8" y1="815.5" x2="864.8" y2="830.5" stroke="#1e1e1e" stroke-width="4.4"/><line x1="960.0" y1="815.5" x2="960.0" y2="842.5" stroke="#1e1e1e" stroke-width="4.4"/><line x1="1055.2" y1="815.5" x2="1055.2" y2="830.5" stroke="#1e1e1e" stroke-width="4.4"/><line x1="1150.5" y1="815.5" x2="1150.5" y2="842.5" stroke="#1e1e1e" stroke-width="4.4"/><line x1="1245.8" y1="815.5" x2="1245.8" y2="830.5" stroke="#1e1e1e" stroke-width="4.4"/><line x1="1341.0" y1="815.5" x2="1341.0" y2="842.5" stroke="#1e1e1e" stroke-width="4.4"/><line x1="1436.2" y1="815.5" x2="1436.2" y2="830.5" stroke="#1e1e1e" stroke-width="4.4"/><line x1="1531.5" y1="815.5" x2="1531.5" y2="842.5" stroke="#1e1e1e" stroke-width="4.4"/><line x1="1626.8" y1="815.5" x2="1626.8" y2="830.5" stroke="#1e1e1e" stroke-width="4.4"/><line x1="1722.0" y1="815.5" x2="1722.0" y2="842.5" stroke="#1e1e1e" stroke-width="4.4"/><line x1="1817.2" y1="815.5" x2="1817.2" y2="830.5" stroke="#1e1e1e" stroke-width="4.4"/><line x1="1912.5" y1="815.5" x2="1912.5" y2="842.5" stroke="#1e1e1e" stroke-width="4.4"/><text transform="translate(346.5,829.0) scale(1,1.035)" font-size="67" text-anchor="end" fill="#1a1a1a">0.0</text><text transform="translate(327.5,653.4) scale(1,1.035)" font-size="67" text-anchor="end" fill="#1a1a1a">5.0x10</text><text transform="translate(328.0,620.4) scale(1,1.035)" font-size="40" fill="#4a4a4a">7</text><text transform="translate(327.5,466.2) scale(1,1.035)" font-size="67" text-anchor="end" fill="#1a1a1a">1.0x10</text><text transform="translate(328.0,433.2) scale(1,1.035)" font-size="40" fill="#4a4a4a">8</text><text transform="translate(327.5,279.1) scale(1,1.035)" font-size="67" text-anchor="end" fill="#1a1a1a">1.5x10</text><text transform="translate(328.0,246.1) scale(1,1.035)" font-size="40" fill="#4a4a4a">8</text><text transform="translate(327.5,92.0) scale(1,1.035)" font-size="67" text-anchor="end" fill="#1a1a1a">2.0x10</text><text transform="translate(328.0,59.0) scale(1,1.035)" font-size="40" fill="#4a4a4a">8</text><text transform="translate(388.5,909.0) scale(1,1.035)" font-size="67" text-anchor="middle" fill="#1a1a1a">500</text><text transform="translate(579.0,909.0) scale(1,1.035)" font-size="67" text-anchor="middle" fill="#1a1a1a">550</text><text transform="translate(769.5,909.0) scale(1,1.035)" font-size="67" text-anchor="middle" fill="#1a1a1a">600</text><text transform="translate(960.0,909.0) scale(1,1.035)" font-size="67" text-anchor="middle" fill="#1a1a1a">650</text><text transform="translate(1150.5,909.0) scale(1,1.035)" font-size="67" text-anchor="middle" fill="#1a1a1a">700</text><text transform="translate(1341.0,909.0) scale(1,1.035)" font-size="67" text-anchor="middle" fill="#1a1a1a">750</text><text transform="translate(1531.5,909.0) scale(1,1.035)" font-size="67" text-anchor="middle" fill="#1a1a1a">800</text><text transform="translate(1722.0,909.0) scale(1,1.035)" font-size="67" text-anchor="middle" fill="#1a1a1a">850</text><text transform="translate(1912.5,909.0) scale(1,1.035)" font-size="67" text-anchor="middle" fill="#1a1a1a">900</text><text transform="translate(1150.5,1002.7) scale(1,1.035)" font-size="72" text-anchor="middle" fill="#1a1a1a">Wavelength (nm)</text><text transform="translate(97.0,466.0) rotate(-90) scale(1,1.035)" font-size="72" text-anchor="middle" fill="#1a1a1a">Intensity (W/m<tspan font-size="42" dy="-34">3</tspan><tspan dy="34">/sr)</tspan></text><rect x="414" y="123" width="161" height="6" fill="#efefef" stroke="#c2c2c2" stroke-width="1.8"/><line x1="414" y1="214.5" x2="575" y2="214.5" stroke="#1414c8" stroke-width="6"/><text transform="translate(592.0,151.0) scale(1,1.035)" font-size="71.5" fill="#1a1a1a">Spectral radiant intensity of measrued</text><text transform="translate(592.0,239.5) scale(1,1.035)" font-size="71.5" fill="#1a1a1a">Spectral radiant intensity of re<tspan dy="5">_</tspan><tspan dy="-5">calculated</tspan></text><text transform="translate(428.0,360.5) scale(1,1.035)" font-size="71.5" fill="#1a1a1a">Capacity 33.27 ton/h</text></g>
<g><path d="M1397.8,1759.9 L1399.4,1732.9 L1399.8,1281.0 L1404.2,1281.0 L1404.6,1732.9 L1406.2,1759.9" fill="#d4d4d4" stroke="#9a9a9a" stroke-width="1.7" stroke-linejoin="round"/><path d="M1411.3,1758.3 L1412.9,1731.3 L1413.3,1366.0 L1417.7,1366.0 L1418.1,1731.3 L1419.7,1758.3" fill="#d4d4d4" stroke="#9a9a9a" stroke-width="1.7" stroke-linejoin="round"/><polyline points="388.5,1803.0 389.5,1803.1 390.4,1802.9 391.4,1802.8 392.3,1803.4 393.3,1802.9 394.2,1802.9 395.2,1802.7 396.1,1802.5 397.1,1802.6 398.0,1802.9 399.0,1802.5 399.9,1802.8 400.9,1802.4 401.8,1802.6 402.8,1802.5 403.7,1802.4 404.7,1802.8 405.6,1802.4 406.6,1802.6 407.6,1802.1 408.5,1802.0 409.5,1802.5 410.4,1802.6 411.4,1802.1 412.3,1802.2 413.3,1802.2 414.2,1801.5 415.2,1802.0 416.1,1802.1 417.1,1801.9 418.0,1801.8 419.0,1801.4 419.9,1801.7 420.9,1802.0 421.8,1801.8 422.8,1801.2 423.7,1802.0 424.7,1801.5 425.6,1801.2 426.6,1801.4 427.6,1801.5 428.5,1801.6 429.5,1801.3 430.4,1801.2 431.4,1801.2 432.3,1801.0 433.3,1801.1 434.2,1800.8 435.2,1801.0 436.1,1800.8 437.1,1801.1 438.0,1800.6 439.0,1800.6 439.9,1800.7 440.9,1801.0 441.8,1800.7 442.8,1801.4 443.7,1800.8 444.7,1800.6 445.6,1800.8 446.6,1800.5 447.6,1800.4 448.5,1800.1 449.5,1800.4 450.4,1800.7 451.4,1800.9 452.3,1800.3 453.3,1800.1 454.2,1800.0 455.2,1800.2 456.1,1800.3 457.1,1800.3 458.0,1800.1 459.0,1800.0 459.9,1799.8 460.9,1799.9 461.8,1799.4 462.8,1799.8 463.7,1799.7 464.7,1799.5 465.7,1799.5 466.6,1799.9 467.6,1800.1 468.5,1800.0 469.5,1799.6 470.4,1799.6 471.4,1799.6 472.3,1799.5 473.3,1799.4 474.2,1799.9 475.2,1799.1 476.1,1799.1 477.1,1799.5 478.0,1799.7 479.0,1799.6 479.9,1800.0 480.9,1799.6 481.8,1799.8 482.8,1799.7 483.8,1799.7 484.7,1799.1 485.7,1799.8 486.6,1799.5 487.6,1799.7 488.5,1799.2 489.5,1799.3 490.4,1800.0 491.4,1799.8 492.3,1799.5 493.3,1799.7 494.2,1799.5 495.2,1799.5 496.1,1799.8 497.1,1799.6 498.0,1799.4 499.0,1799.5 499.9,1799.5 500.9,1799.4 501.8,1799.5 502.8,1799.2 503.8,1799.8 504.7,1799.4 505.7,1799.6 506.6,1799.4 507.6,1799.3 508.5,1799.3 509.5,1799.3 510.4,1799.3 511.4,1799.3 512.3,1799.5 513.3,1799.2 514.2,1799.2 515.2,1799.2 516.1,1799.3 517.1,1799.3 518.0,1799.9 519.0,1799.6 519.9,1799.4 520.9,1799.1 521.9,1799.1 522.8,1799.3 523.8,1799.6 524.7,1799.2 525.7,1799.1 526.6,1799.1 527.6,1799.5 528.5,1799.6 529.5,1799.5 530.4,1799.6 531.4,1799.0 532.3,1799.2 533.3,1798.7 534.2,1798.8 535.2,1799.0 536.1,1799.4 537.1,1799.1 538.0,1799.1 539.0,1799.6 539.9,1799.5 540.9,1799.4 541.9,1798.9 542.8,1799.3 543.8,1799.5 544.7,1799.2 545.7,1799.0 546.6,1799.5 547.6,1798.7 548.5,1799.3 549.5,1798.9 550.4,1798.9 551.4,1799.3 552.3,1799.1 553.3,1799.1 554.2,1799.2 555.2,1798.9 556.1,1799.1 557.1,1799.5 558.0,1799.0 559.0,1799.3 560.0,1799.1 560.9,1799.0 561.9,1799.0 562.8,1798.7 563.8,1799.0 564.7,1799.1 565.7,1798.6 566.6,1798.8 567.6,1799.0 568.5,1799.0 569.5,1799.0 570.4,1798.9 571.4,1799.2 572.3,1798.5 573.3,1798.6 574.2,1799.5 575.2,1799.1 576.1,1798.9 577.1,1799.0 578.0,1799.4 579.0,1798.7 580.0,1799.2 580.9,1798.6 581.9,1798.7 582.8,1798.4 583.8,1799.0 584.7,1798.3 585.7,1799.1 586.6,1798.4 587.6,1798.5 588.5,1798.6 589.5,1799.0 590.4,1798.3 591.4,1798.5 592.3,1799.2 593.3,1799.4 594.2,1798.9 595.2,1798.9 596.1,1798.5 597.1,1798.6 598.0,1798.6 599.0,1798.8 600.0,1798.4 600.9,1798.8 601.9,1799.0 602.8,1799.2 603.8,1798.4 604.7,1798.7 605.7,1799.0 606.6,1798.8 607.6,1798.6 608.5,1798.3 609.5,1799.1 610.4,1798.6 611.4,1798.3 612.3,1798.3 613.3,1798.2 614.2,1797.9 615.2,1798.7 616.1,1798.6 617.1,1798.1 618.1,1797.9 619.0,1798.3 620.0,1798.5 620.9,1798.7 621.9,1798.2 622.8,1798.2 623.8,1798.6 624.7,1798.5 625.7,1798.6 626.6,1798.1 627.6,1798.3 628.5,1797.9 629.5,1797.9 630.4,1798.1 631.4,1797.9 632.3,1797.9 633.3,1797.8 634.2,1798.3 635.2,1798.0 636.1,1797.6 637.1,1797.9 638.1,1798.2 639.0,1798.0 640.0,1797.4 640.9,1798.2 641.9,1798.2 642.8,1797.8 643.8,1798.1 644.7,1798.5 645.7,1798.5 646.6,1798.0 647.6,1798.2 648.5,1797.6 649.5,1798.1 650.4,1798.3 651.4,1798.2 652.3,1798.3 653.3,1797.6 654.2,1798.1 655.2,1797.4 656.2,1797.7 657.1,1797.3 658.1,1797.9 659.0,1797.6 660.0,1798.4 660.9,1797.9 661.9,1798.0 662.8,1797.4 663.8,1797.8 664.7,1797.5 665.7,1797.9 666.6,1798.1 667.6,1797.7 668.5,1797.3 669.5,1797.7 670.4,1797.2 671.4,1797.7 672.3,1797.7 673.3,1797.7 674.2,1797.7 675.2,1797.8 676.2,1797.6 677.1,1797.8 678.1,1797.8 679.0,1797.1 680.0,1797.2 680.9,1797.6 681.9,1797.6 682.8,1797.9 683.8,1797.2 684.7,1797.6 685.7,1796.8 686.6,1797.9 687.6,1797.3 688.5,1797.0 689.5,1797.5 690.4,1796.7 691.4,1797.0 692.3,1797.0 693.3,1797.5 694.3,1796.9 695.2,1796.9 696.2,1797.2 697.1,1796.7 698.1,1797.1 699.0,1797.8 700.0,1797.0 700.9,1796.6 701.9,1797.3 702.8,1796.9 703.8,1797.3 704.7,1797.1 705.7,1797.9 706.6,1797.6 707.6,1797.1 708.5,1797.2 709.5,1797.5 710.4,1796.7 711.4,1796.8 712.4,1797.2 713.3,1797.5 714.3,1796.6 715.2,1796.9 716.2,1796.4 717.1,1796.2 718.1,1796.6" fill="none" stroke="#c4c4c4" stroke-width="1.6" stroke-linejoin="round"/><polyline points="718.1,1796.6 719.0,1796.5 720.0,1796.1 720.9,1796.4 721.9,1796.9 722.8,1796.0 723.2,1796.0 725.9,1748.0 728.2,1748.0 730.8,1796.0 731.4,1795.6 732.4,1795.9 733.3,1795.2 734.3,1795.6 735.2,1795.8 736.2,1795.4 737.1,1795.9 737.7,1795.0 738.7,1791.0 739.3,1791.0 740.3,1795.0 740.9,1794.7 741.9,1794.7 742.8,1795.1 743.8,1794.4 744.7,1794.7 745.7,1794.8 746.6,1795.1 747.6,1794.0 748.5,1794.4 749.5,1794.4 750.5,1794.8 751.4,1793.9 752.4,1794.2 753.3,1793.8 754.3,1794.1 755.2,1794.4 756.2,1793.9 757.1,1794.6 758.1,1794.6 759.0,1794.1 760.0,1793.8 760.9,1793.7 761.9,1794.1 762.8,1794.1 763.8,1793.9 764.7,1794.1 765.7,1794.1 766.6,1793.8 767.6,1794.1 768.5,1794.0 769.5,1793.5 770.5,1793.8 771.4,1794.1 772.4,1793.7 773.3,1793.9 774.3,1793.6 775.2,1794.1 776.2,1794.1 777.1,1794.3 778.1,1793.4 779.0,1793.3 780.0,1793.4 780.9,1793.7 781.9,1793.7 782.8,1793.8 783.8,1793.5 784.7,1793.8 785.7,1794.0 786.6,1793.4 787.6,1793.4 788.5,1793.5 789.5,1793.7 790.5,1793.7 791.4,1793.6 792.4,1793.5 793.3,1794.0 794.3,1793.7 795.2,1793.9 796.2,1793.2 797.1,1794.0 798.1,1793.9 799.0,1793.8 800.0,1793.4 800.9,1793.8 801.9,1792.9 802.8,1793.2 803.8,1794.2 804.7,1793.3 805.7,1793.3 806.6,1793.8 807.6,1793.4 808.6,1793.3 809.5,1793.5 810.5,1793.3 811.4,1793.2 812.4,1793.4 813.3,1793.3 814.3,1793.6 815.2,1793.0 816.2,1793.4 817.1,1792.8 818.1,1792.5 819.0,1792.6 820.0,1793.3 820.9,1793.0 821.9,1793.2 822.8,1792.9 823.8,1793.3 824.7,1793.4 825.7,1793.0 826.6,1793.3 827.6,1792.6 828.6,1792.7 829.5,1792.8 830.5,1793.0 831.4,1793.0 832.4,1792.6 833.3,1792.9 834.3,1792.9 835.2,1792.2 836.2,1792.8 837.1,1792.9 838.1,1792.9 839.0,1792.3 840.0,1792.9 840.9,1792.9 841.9,1792.3 842.8,1792.3 843.8,1792.2 844.7,1792.9 845.7,1792.5 846.7,1792.8 847.6,1792.4 848.6,1793.1 849.5,1792.6 850.5,1792.2 851.4,1792.4 852.4,1793.3 853.3,1792.1 854.3,1792.3 855.2,1792.5 856.2,1792.4 857.1,1792.5 858.1,1792.0 859.0,1792.3 860.0,1792.9 860.9,1792.6 861.9,1791.7 862.8,1791.9 863.8,1791.9 864.8,1792.5 865.7,1792.0 866.7,1791.8 867.6,1792.1 868.6,1791.9 869.5,1791.7 870.5,1791.7 871.4,1791.9 872.4,1791.9 873.3,1792.4 874.3,1792.1 875.2,1791.7 876.2,1791.3 877.1,1791.8 878.1,1791.5 879.0,1791.9 880.0,1792.2 880.9,1791.7 881.9,1791.6 882.8,1792.1 883.8,1792.0 884.8,1791.7 885.7,1791.9 886.7,1791.5 887.6,1792.1 888.6,1791.3 889.5,1791.8 890.5,1791.4 891.4,1792.1 892.4,1791.2 893.3,1791.4 894.3,1790.7 895.2,1792.0 896.2,1792.1 897.1,1791.1 898.1,1791.1 899.0,1792.0 900.0,1791.1 900.9,1791.0 901.9,1790.8 902.9,1791.2 903.8,1791.8 904.8,1791.9 905.7,1790.4 906.7,1791.0 907.6,1790.8 908.6,1791.2 909.5,1791.1 910.5,1791.1 911.4,1791.3 912.4,1791.1 913.3,1791.3 914.3,1791.1 915.2,1790.5 916.2,1790.9 917.1,1791.1 918.1,1790.2 919.0,1790.3 920.0,1790.7 920.9,1791.3 921.9,1790.2 922.9,1790.2 923.8,1790.9 924.8,1790.1 925.7,1790.9 926.7,1790.6 927.6,1790.7 928.6,1790.4 929.5,1790.5 930.5,1789.9 931.4,1790.5 932.4,1790.2 933.3,1790.3 934.3,1790.2 935.2,1790.6 936.2,1790.3 937.1,1789.7 938.1,1789.9 939.0,1790.6 940.0,1790.3 941.0,1790.5 941.9,1790.3 942.9,1790.3 943.8,1790.5 944.8,1789.8 945.7,1789.6 946.7,1789.9 947.6,1790.1 948.6,1789.8 949.5,1790.1 950.5,1789.4 951.4,1788.9 952.4,1790.7 953.3,1789.6 954.3,1789.7 955.2,1789.6 956.2,1789.7 957.1,1790.1 958.1,1789.6 959.0,1789.7 960.0,1789.5 961.0,1789.5 961.9,1789.6 962.9,1788.6 963.8,1789.8 964.8,1789.5 965.7,1789.8 966.7,1789.4 967.6,1788.7 968.6,1789.3 969.5,1789.5 970.5,1789.7 971.4,1789.0 972.4,1789.4 973.3,1788.9 974.3,1789.3 975.2,1789.2 976.2,1789.0 977.1,1789.6 978.1,1788.5 979.0,1789.4 980.0,1788.8 981.0,1788.7 981.9,1788.0 982.9,1788.6 983.8,1788.5 984.8,1788.9 985.7,1788.8 986.7,1788.7 987.6,1788.3 988.6,1789.0 989.5,1788.4 990.5,1787.5 991.4,1788.9 992.4,1789.2 993.3,1788.7 994.3,1788.5 995.2,1787.8 996.2,1788.2 997.1,1787.9 998.1,1788.6 999.1,1788.3 1000.0,1788.1 1001.0,1788.5 1001.9,1788.1 1002.9,1788.3 1003.8,1788.0 1004.8,1788.6 1005.7,1788.8 1006.7,1787.5 1007.6,1788.0 1008.6,1788.0 1009.5,1786.9 1010.5,1787.5 1011.4,1787.7 1012.4,1788.1 1013.3,1787.6 1014.3,1787.7 1015.2,1787.8 1016.2,1787.1 1017.1,1787.4 1018.1,1787.4 1019.1,1787.9 1020.0,1787.8 1021.0,1787.1 1021.9,1787.4 1022.9,1787.7 1023.8,1787.3 1024.8,1787.4 1025.7,1787.5 1026.7,1787.4 1027.6,1787.0 1028.6,1787.1 1029.5,1787.5 1030.5,1787.4 1031.4,1787.0 1032.4,1787.5 1033.3,1787.0 1034.3,1787.1 1035.2,1787.5 1036.2,1787.9 1037.2,1787.2 1038.1,1786.9 1039.1,1786.8 1040.0,1786.3 1041.0,1786.8 1041.9,1786.8 1042.9,1786.5 1043.8,1786.8 1044.8,1785.9 1045.7,1786.8 1046.7,1786.9 1047.6,1786.7 1048.6,1786.0 1049.5,1786.6 1050.5,1786.7 1051.4,1786.1 1052.4,1785.9 1053.3,1786.4 1054.3,1786.0 1055.2,1786.5 1056.2,1785.6 1057.2,1786.5 1058.1,1786.2 1059.1,1786.2 1060.0,1786.4 1061.0,1786.0 1061.9,1785.7 1062.9,1786.2 1063.8,1785.1 1064.8,1785.7 1065.7,1785.6 1066.7,1786.0 1067.6,1785.7 1068.6,1785.3 1069.5,1786.0 1070.5,1785.8 1071.4,1785.8 1072.4,1786.0 1073.3,1785.2 1074.3,1785.7 1075.3,1784.7 1076.2,1785.8 1077.2,1785.4 1078.1,1785.2 1079.1,1785.6 1080.0,1786.0 1081.0,1785.4 1081.9,1785.1 1082.9,1785.4 1083.8,1784.9 1084.8,1785.7 1085.7,1784.8 1086.7,1784.0 1087.6,1784.4 1088.6,1784.4 1089.5,1784.9 1090.5,1784.8 1091.4,1784.2 1092.4,1784.7 1093.3,1784.3 1094.3,1784.9 1095.3,1784.3 1096.2,1784.3 1097.2,1785.3 1098.1,1784.4 1099.1,1784.0 1100.0,1784.0 1101.0,1784.0 1101.9,1783.6 1102.9,1784.1 1103.8,1784.3 1104.8,1783.6 1105.7,1783.1 1106.7,1784.0 1107.6,1783.2 1108.6,1783.9 1109.5,1784.4 1110.5,1784.1 1111.4,1784.0 1112.4,1783.1 1113.4,1783.5 1114.3,1783.7 1115.3,1783.4 1116.2,1782.8 1117.2,1783.4 1118.1,1783.6 1119.1,1783.1 1120.0,1783.6 1121.0,1783.0 1121.9,1782.7 1122.9,1783.0 1123.8,1783.2 1124.8,1782.9 1125.7,1783.5 1126.7,1782.2 1127.6,1781.9 1128.6,1782.8 1129.5,1783.6 1130.5,1783.0 1131.5,1783.2 1132.4,1783.4 1133.4,1782.6 1134.3,1782.5 1135.3,1782.7 1136.2,1781.9 1137.2,1782.3 1138.1,1782.7 1139.1,1782.0 1140.0,1782.7 1141.0,1782.3 1141.9,1782.4 1142.9,1781.9 1143.8,1782.1 1144.8,1782.2 1145.7,1781.7 1146.7,1781.6 1147.6,1781.7 1148.6,1781.2 1149.5,1782.1 1150.5,1781.4" fill="none" stroke="#6a6a6a" stroke-width="1.7" stroke-linejoin="round"/><polyline points="1150.5,1781.4 1151.5,1780.8 1152.4,1781.5 1153.4,1783.6 1154.3,1779.4 1155.3,1781.3 1156.2,1780.9 1157.2,1781.0 1158.1,1780.8 1159.1,1780.4 1160.0,1780.8 1161.0,1781.3 1161.9,1781.3 1162.9,1781.1 1163.8,1780.7 1164.8,1779.9 1165.7,1780.8 1166.7,1779.1 1167.6,1780.0 1168.6,1780.5 1169.5,1780.8 1170.5,1781.0 1171.5,1779.7 1172.4,1780.5 1173.4,1779.8 1174.3,1779.6 1175.3,1781.7 1176.2,1779.5 1177.2,1780.6 1178.1,1779.6 1179.1,1780.0 1180.0,1779.3 1181.0,1779.2 1181.9,1779.2 1182.9,1777.1 1183.8,1779.4 1184.8,1779.7 1185.7,1779.5 1186.7,1778.4 1187.6,1779.3 1188.6,1778.9 1189.6,1778.5 1190.5,1778.7 1191.5,1779.0 1192.4,1779.4 1193.4,1777.9 1194.3,1778.6 1195.3,1779.0 1196.2,1778.4 1197.2,1778.0 1198.1,1778.9 1199.1,1777.8 1200.0,1777.8 1201.0,1777.5 1201.9,1777.7 1202.9,1778.1 1203.8,1778.3 1204.8,1777.5 1205.7,1777.6 1206.7,1776.5 1207.7,1777.4 1208.6,1778.4 1209.6,1777.0 1210.5,1777.9 1211.5,1776.5 1212.4,1777.1 1213.4,1777.5 1214.3,1776.5 1215.3,1776.0 1216.2,1776.6 1217.2,1777.5 1218.1,1776.7 1219.1,1776.5 1220.0,1775.6 1221.0,1774.8 1221.9,1775.8 1222.9,1775.7 1223.8,1777.4 1224.8,1775.7 1225.7,1775.4 1226.7,1774.4 1227.7,1776.3 1228.6,1775.9 1229.6,1775.0 1230.5,1775.1 1231.5,1775.0 1232.4,1775.8 1233.4,1774.9 1234.3,1774.2 1235.3,1774.9 1236.2,1772.5 1237.2,1775.2 1238.1,1774.2 1239.1,1774.9 1240.0,1774.8 1241.0,1774.8 1241.9,1773.7 1242.9,1773.6 1243.8,1774.7 1244.8,1774.8 1245.8,1773.9 1246.7,1773.2 1247.7,1773.7 1248.6,1773.4 1249.6,1773.4 1250.5,1773.3 1251.5,1773.6 1252.4,1773.1 1253.4,1772.9 1254.3,1773.3 1255.3,1772.2 1256.2,1773.7 1257.2,1773.2 1258.1,1773.4 1259.1,1770.2 1260.0,1772.1 1261.0,1771.0 1261.9,1772.5 1262.9,1772.7 1263.8,1773.1 1264.8,1772.7 1265.8,1772.0 1266.7,1771.8 1267.7,1772.4 1268.6,1771.9 1269.6,1771.4 1270.5,1771.0 1271.5,1771.5 1272.4,1772.0 1273.4,1772.4 1274.3,1771.4 1275.3,1771.5 1276.2,1771.6 1277.2,1771.5 1278.1,1771.4 1279.1,1770.9 1280.0,1770.5 1281.0,1771.3 1281.9,1769.6 1282.9,1769.8 1283.8,1770.6 1284.8,1770.2 1285.8,1769.4 1286.7,1770.8 1287.7,1770.5 1288.6,1770.4 1289.6,1770.6 1290.5,1766.9 1291.5,1769.9 1292.4,1769.6 1293.4,1769.5 1294.3,1769.6 1295.3,1768.5 1296.2,1769.4 1297.2,1769.7 1298.1,1770.0 1299.1,1768.5 1300.0,1768.8 1301.0,1768.7 1301.9,1768.6 1302.9,1767.3 1303.9,1768.3 1304.8,1768.2 1305.8,1770.2 1306.7,1768.0 1307.7,1767.9 1308.6,1768.2 1309.6,1767.3 1310.5,1765.7 1311.5,1770.3 1312.4,1767.1 1313.4,1766.5 1314.3,1768.2 1315.3,1765.1 1316.2,1766.8 1317.2,1765.3 1318.1,1766.5 1319.1,1764.4 1320.0,1766.9 1321.0,1766.4 1322.0,1767.8 1322.9,1769.4 1323.9,1767.2 1324.8,1766.1 1325.8,1768.4 1326.7,1766.2 1327.7,1767.1 1328.6,1765.9 1329.6,1766.3 1330.5,1765.9 1331.5,1766.5 1332.4,1766.0 1333.4,1762.0 1334.3,1765.3 1335.3,1768.1 1336.2,1767.6 1337.2,1765.3 1338.1,1761.8 1339.1,1766.0 1340.0,1764.6 1341.0,1764.0 1342.0,1763.1 1342.9,1765.4 1343.9,1765.2 1344.8,1762.1 1345.8,1763.1 1346.7,1763.9 1347.7,1765.3 1348.6,1764.3 1349.6,1764.1 1350.5,1762.0 1351.5,1763.2 1352.4,1763.1 1353.4,1762.5 1354.3,1762.2 1355.3,1763.0 1356.2,1763.3 1357.2,1763.7 1358.1,1764.4 1359.1,1763.7 1360.0,1763.7 1361.0,1761.5 1362.0,1762.2 1362.9,1761.8 1363.9,1761.4 1364.8,1763.1 1365.8,1761.1 1366.7,1761.9 1367.7,1761.5 1368.6,1758.8 1369.6,1761.2 1370.5,1761.8 1371.5,1762.4 1372.4,1761.2 1373.4,1760.5 1374.3,1762.7 1375.3,1760.0 1376.2,1761.6 1377.2,1759.2 1378.1,1757.8 1379.1,1759.3 1380.1,1760.6 1381.0,1759.1 1382.0,1759.9 1382.9,1759.8 1383.9,1759.7 1384.8,1759.7 1385.8,1760.9 1386.7,1760.9 1387.7,1759.5 1388.6,1761.5 1389.6,1758.8 1390.5,1759.0 1391.5,1758.2 1392.4,1759.6 1393.4,1760.2 1394.3,1759.2 1395.3,1759.6 1396.2,1759.9 1397.2,1758.6 1398.2,1759.1 1399.1,1758.7 1400.1,1756.1 1401.0,1758.9 1402.0,1753.0 1402.9,1757.8 1403.9,1758.7 1404.8,1757.7 1405.8,1757.5 1406.7,1758.5 1407.7,1756.5 1408.6,1757.9 1409.6,1753.1 1410.5,1757.3 1411.5,1757.4 1412.4,1754.2 1413.4,1753.6 1414.3,1758.7 1415.3,1756.8 1416.2,1754.5 1417.2,1755.3 1418.2,1755.7 1419.1,1756.8 1420.1,1753.2 1421.0,1755.9 1422.0,1756.6 1422.9,1754.6 1423.9,1754.8 1424.8,1756.0 1425.8,1756.0 1426.7,1755.1 1427.7,1755.4 1428.6,1750.5 1429.6,1754.4 1430.5,1755.5 1431.5,1758.3 1432.4,1754.5 1433.4,1753.1 1434.3,1754.6 1435.3,1753.4 1436.2,1754.4 1437.2,1753.3 1438.2,1754.1 1439.1,1754.2 1440.1,1752.4 1441.0,1753.9 1442.0,1751.4 1442.9,1752.2 1443.9,1754.0 1444.8,1751.7 1445.8,1752.8 1446.7,1749.9 1447.7,1753.6 1448.6,1752.4 1449.6,1752.6 1450.5,1752.7 1451.5,1753.0 1452.2,1751.5 1453.2,1732.0 1453.8,1732.0 1454.8,1751.5 1455.3,1753.0 1456.3,1750.2 1457.2,1750.1 1458.2,1752.8 1459.1,1752.3 1460.1,1750.2 1461.0,1750.7 1462.0,1752.0 1462.9,1748.3 1463.9,1749.6 1464.8,1747.1 1465.8,1750.9 1466.7,1749.1 1467.7,1748.6 1468.6,1749.1 1469.6,1749.0 1470.5,1749.8 1471.5,1743.4 1472.4,1749.5 1473.4,1748.8 1474.3,1748.5 1475.3,1749.1 1476.3,1747.8 1477.2,1743.7 1478.2,1748.8 1479.1,1746.7 1480.1,1746.8 1481.0,1746.5 1482.0,1748.4 1482.9,1747.0 1483.9,1747.4 1484.8,1747.3 1485.8,1751.4 1486.7,1746.1 1487.7,1749.2 1488.6,1745.2 1489.6,1746.5 1490.5,1746.6 1491.5,1745.3 1492.4,1742.6 1493.4,1750.6 1494.4,1746.3 1495.3,1744.0 1496.3,1747.3 1497.2,1748.8 1498.2,1744.5 1499.1,1743.9 1500.1,1743.8 1501.0,1739.6 1502.0,1743.8 1502.9,1745.8 1503.9,1747.2 1504.8,1745.9 1505.8,1746.5 1506.7,1744.7 1507.7,1745.9 1508.2,1744.9 1509.2,1727.4 1509.8,1727.4 1510.8,1744.9 1511.5,1743.6 1512.5,1745.0 1513.4,1745.8 1514.4,1747.6 1515.3,1743.1 1516.3,1745.5 1517.2,1742.0 1518.2,1742.6 1519.1,1742.2 1520.1,1741.8 1521.0,1742.5 1522.0,1742.1 1522.9,1743.4 1523.9,1741.8 1524.8,1740.7 1525.8,1744.3 1526.7,1741.8 1527.7,1742.2 1528.6,1740.0 1529.6,1736.1 1530.5,1740.8 1531.5,1741.5 1532.5,1735.1 1533.4,1741.3 1534.4,1741.8 1535.3,1739.0 1536.3,1745.3 1537.2,1738.9 1538.2,1741.1 1539.1,1741.3 1540.1,1740.5 1541.0,1737.1 1542.0,1740.2 1542.9,1742.4 1543.9,1730.4 1544.8,1733.2 1545.8,1739.1 1546.7,1738.8 1547.7,1739.1 1548.6,1738.1 1549.6,1739.4 1550.5,1735.2 1551.5,1739.1 1552.5,1737.0 1553.4,1739.2 1554.4,1738.0 1555.3,1730.3 1556.3,1734.8 1557.2,1738.7 1558.2,1738.3 1559.1,1735.4 1560.1,1735.3 1561.0,1739.6 1562.0,1735.1 1562.9,1737.7 1563.9,1739.0 1564.8,1735.1 1565.8,1736.8 1566.7,1734.9 1567.7,1736.1 1568.6,1737.7 1569.6,1734.4 1570.5,1732.7 1571.5,1726.0 1572.1,1726.0 1573.1,1732.7 1573.4,1735.8 1574.4,1732.5 1575.3,1734.9 1576.3,1736.0 1577.2,1737.3 1578.2,1733.5 1579.1,1729.0 1580.1,1733.2 1581.0,1728.5 1582.0,1738.1 1582.9,1735.6 1583.9,1731.5 1584.8,1733.8 1585.8,1733.6 1586.7,1739.1 1587.7,1733.1 1588.7,1733.2 1589.6,1729.4 1590.6,1727.9 1591.5,1734.2 1592.5,1730.7 1593.3,1733.5 1594.3,1722.0 1594.9,1722.0 1595.9,1733.5 1596.3,1735.1 1597.2,1730.7 1598.2,1730.2 1599.1,1731.9 1600.1,1728.4 1601.0,1730.4 1602.0,1731.7 1602.9,1732.9 1603.9,1726.6 1604.8,1731.2 1605.8,1729.7 1606.7,1729.2 1607.7,1733.2 1608.7,1731.5 1609.6,1733.1 1610.6,1728.9 1611.5,1731.3 1612.5,1729.2 1613.4,1725.3 1614.4,1729.4 1615.3,1727.2 1616.3,1730.0 1617.2,1723.2 1618.2,1728.5 1619.1,1720.8 1620.1,1727.8 1621.0,1728.4 1622.0,1725.5 1622.9,1727.5 1623.9,1732.1 1624.8,1727.7 1625.8,1727.2 1626.8,1726.4 1627.7,1731.5 1628.7,1730.0 1629.6,1726.9 1630.6,1726.9 1631.5,1726.2 1632.5,1723.3 1633.4,1726.2 1634.4,1724.7 1635.3,1726.2 1636.3,1728.3 1637.2,1725.8 1638.2,1723.2 1639.1,1722.4 1640.1,1726.0 1641.0,1727.4 1642.0,1728.8 1642.9,1725.9 1643.9,1723.3 1644.8,1722.2 1645.8,1723.1 1646.8,1719.0 1647.7,1716.5 1648.7,1718.2 1649.6,1717.3 1650.6,1717.2 1651.5,1715.6 1652.5,1723.6 1653.4,1716.5 1654.4,1728.8 1655.3,1715.7 1656.3,1721.4 1657.2,1723.2 1658.2,1718.7 1659.1,1719.1 1660.1,1718.0 1661.0,1721.1 1662.0,1721.2 1662.9,1720.0 1663.9,1718.7 1664.8,1717.5 1665.8,1721.8 1666.8,1720.2 1667.7,1718.2 1668.7,1720.0 1669.6,1717.8 1670.6,1723.1 1671.5,1714.8 1672.5,1717.7 1673.4,1723.0 1674.4,1717.1 1675.3,1720.8 1676.3,1715.2 1677.2,1720.3 1678.2,1719.6 1679.1,1717.6 1680.1,1718.2 1681.0,1713.2 1682.0,1718.1 1682.9,1717.0 1683.9,1716.9 1684.9,1716.3 1685.8,1714.0 1686.8,1723.5 1687.7,1719.5 1688.7,1718.8 1689.6,1716.5 1690.6,1715.5 1691.5,1709.4 1692.5,1714.8 1693.4,1715.0 1694.4,1724.2 1695.3,1719.8 1696.3,1713.9 1697.2,1723.1 1698.2,1709.2 1699.1,1715.1 1700.1,1713.1 1701.0,1715.6 1702.0,1716.9 1703.0,1714.3 1703.9,1713.9 1704.9,1707.7 1705.8,1714.2 1706.8,1713.3 1707.7,1718.8 1708.7,1713.5 1709.6,1708.4 1710.6,1717.1 1711.5,1707.4 1712.5,1713.4 1713.4,1711.5 1714.4,1714.5 1715.3,1717.2 1716.3,1712.8 1717.2,1709.9 1718.2,1701.3 1719.1,1713.1 1720.1,1713.6 1721.0,1708.1 1721.2,1704.5 1722.2,1700.0 1722.8,1700.0 1723.8,1704.5 1723.9,1716.0 1724.9,1712.7 1725.8,1702.8 1726.8,1705.8 1727.7,1709.4 1728.7,1706.7 1729.6,1706.5 1730.6,1717.6 1731.5,1709.8 1732.5,1712.9 1733.4,1709.3 1734.4,1709.4 1735.3,1709.6 1736.3,1711.3 1737.2,1705.2 1738.2,1705.0 1739.1,1704.3 1740.1,1707.6 1741.0,1715.9 1742.0,1706.1 1743.0,1705.8 1743.9,1705.5 1744.9,1698.9 1745.8,1704.8 1746.8,1707.7 1747.7,1699.0 1748.7,1704.8 1749.7,1697.0 1750.3,1697.0 1751.3,1704.8 1751.5,1699.0 1752.5,1698.8 1753.4,1703.2 1754.4,1703.7 1755.3,1704.5 1756.3,1700.5 1757.2,1706.1 1758.2,1701.1 1759.1,1705.0 1760.1,1702.1 1761.1,1700.9 1762.0,1705.9 1763.0,1704.7 1763.9,1696.7 1764.9,1699.4 1765.8,1703.2 1766.8,1694.5 1767.7,1703.7 1768.7,1701.5 1769.6,1701.3 1770.6,1699.9 1771.5,1702.4 1772.5,1703.3 1773.4,1700.7 1774.4,1698.5 1775.3,1698.6 1776.3,1706.7 1777.2,1692.5 1778.2,1698.9 1779.2,1700.7 1780.1,1702.3 1781.1,1698.7 1782.0,1696.3 1783.0,1689.4 1783.9,1696.7 1784.9,1699.4 1785.8,1704.3 1786.8,1699.6 1787.7,1696.2 1788.7,1697.4 1789.6,1695.8 1790.6,1698.0 1791.5,1695.5 1792.5,1697.9 1793.4,1698.1 1794.4,1696.5 1794.7,1695.2 1795.7,1670.4 1796.3,1670.4 1797.3,1695.2 1798.2,1686.3 1799.2,1697.0 1800.1,1703.7 1801.1,1694.3 1802.0,1690.9 1803.0,1692.5 1803.9,1697.2 1804.9,1698.7 1805.8,1691.8 1806.8,1692.1 1807.7,1689.9 1808.7,1691.8 1809.6,1699.6 1810.6,1692.0 1811.5,1694.8 1812.5,1702.2 1813.4,1696.5 1814.4,1689.4 1815.3,1699.2 1816.3,1696.5 1817.2,1681.5 1818.2,1690.3 1819.2,1688.8 1820.1,1692.3 1821.1,1693.1 1822.0,1682.0 1823.0,1689.8 1823.9,1682.2 1824.9,1694.8 1825.8,1691.9 1826.8,1686.5 1827.7,1692.8 1828.7,1690.9 1829.6,1696.5 1830.6,1689.7 1831.5,1687.1 1832.5,1669.4 1833.1,1669.4 1834.1,1687.1 1834.4,1688.4 1835.3,1687.0 1836.3,1689.2 1837.3,1681.0 1838.2,1689.0 1839.2,1690.0 1840.1,1694.0 1841.1,1687.6 1842.0,1686.1 1843.0,1685.2 1843.9,1682.6 1844.9,1689.4 1845.8,1689.8 1846.8,1685.3 1847.7,1682.7 1848.7,1686.8 1849.6,1680.8 1850.6,1682.4 1851.5,1685.6 1852.5,1674.1 1853.4,1685.0 1854.4,1687.6 1855.3,1687.0 1856.3,1689.8 1857.3,1690.6 1858.2,1684.1 1859.2,1684.0 1860.1,1683.4 1861.1,1676.6 1862.0,1681.3 1863.0,1673.9 1863.9,1684.1 1864.2,1683.0 1865.2,1644.0 1865.8,1644.0 1866.8,1683.0 1867.7,1674.7 1868.7,1680.8 1869.6,1674.3 1870.6,1682.8 1871.5,1687.7 1872.5,1677.8 1873.4,1686.9 1874.4,1680.0 1875.4,1681.6 1876.3,1681.3 1877.3,1679.4 1878.2,1677.9 1879.2,1677.4 1880.1,1680.6 1881.1,1681.6 1882.0,1684.8 1883.0,1675.2 1883.7,1678.9 1884.7,1649.0 1885.3,1649.0 1886.3,1678.9 1886.8,1676.6 1887.7,1675.0 1888.7,1679.3 1889.6,1675.8 1890.6,1673.2 1891.5,1675.0 1892.5,1678.1 1893.5,1679.5 1894.4,1675.7 1895.4,1678.3 1896.3,1673.5 1897.3,1671.7 1898.2,1675.9 1899.2,1668.9 1900.1,1676.5 1901.1,1680.4 1902.0,1674.6 1903.0,1675.8 1903.9,1674.7 1904.9,1678.4 1905.8,1671.2 1906.8,1671.2 1907.7,1667.2 1908.7,1670.8 1909.6,1674.7 1910.6,1663.0 1911.5,1674.1 1912.5,1674.5" fill="none" stroke="#3a3a3a" stroke-width="2.3" stroke-linejoin="round"/><polyline points="388.5,1803.1 396.1,1803.1 403.7,1803.0 411.4,1803.0 419.0,1803.0 426.6,1802.9 434.2,1802.9 441.8,1802.9 449.5,1802.8 457.1,1802.8 464.7,1802.8 472.3,1802.7 479.9,1802.7 487.6,1802.6 495.2,1802.6 502.8,1802.5 510.4,1802.5 518.0,1802.4 525.7,1802.3 533.3,1802.3 540.9,1802.2 548.5,1802.1 556.1,1802.1 563.8,1802.0 571.4,1801.9 579.0,1801.8 586.6,1801.8 594.2,1801.7 601.9,1801.6 609.5,1801.5 617.1,1801.4 624.7,1801.3 632.3,1801.2 640.0,1801.1 647.6,1801.0 655.2,1800.9 662.8,1800.8 670.4,1800.7 678.1,1800.5 685.7,1800.4 693.3,1800.3 700.9,1800.2 708.5,1800.0 716.2,1799.9 723.8,1799.7 731.4,1799.6 739.0,1799.4 746.6,1799.3 754.3,1799.1 761.9,1798.9 769.5,1798.8 777.1,1798.6 784.7,1798.4 792.4,1798.2 800.0,1798.0 807.6,1797.8 815.2,1797.6 822.8,1797.4 830.5,1797.2 838.1,1796.9 845.7,1796.7 853.3,1796.5 860.9,1796.2 868.6,1796.0 876.2,1795.7 883.8,1795.5 891.4,1795.2 899.0,1794.9 906.7,1794.6 914.3,1794.4 921.9,1794.1 929.5,1793.8 937.1,1793.5 944.8,1793.1 952.4,1792.8 960.0,1792.5 967.6,1792.2 975.2,1791.8 982.9,1791.5 990.5,1791.1 998.1,1790.7 1005.7,1790.4 1013.3,1790.0 1021.0,1789.6 1028.6,1789.2 1036.2,1788.8 1043.8,1788.4 1051.4,1787.9 1059.1,1787.5 1066.7,1787.1 1074.3,1786.6 1081.9,1786.1 1089.5,1785.7 1097.2,1785.2 1104.8,1784.7 1112.4,1784.2 1120.0,1783.7 1127.6,1783.2 1135.3,1782.7 1142.9,1782.1 1150.5,1781.6 1158.1,1781.0 1165.7,1780.5 1173.4,1779.9 1181.0,1779.3 1188.6,1778.7 1196.2,1778.1 1203.8,1777.5 1211.5,1776.9 1219.1,1776.3 1226.7,1775.6 1234.3,1775.0 1241.9,1774.3 1249.6,1773.6 1257.2,1773.0 1264.8,1772.3 1272.4,1771.6 1280.0,1770.8 1287.7,1770.1 1295.3,1769.4 1302.9,1768.6 1310.5,1767.9 1318.1,1767.1 1325.8,1766.3 1333.4,1765.5 1341.0,1764.7 1348.6,1763.9 1356.2,1763.1 1363.9,1762.3 1371.5,1761.4 1379.1,1760.6 1386.7,1759.7 1394.3,1758.8 1402.0,1757.9 1409.6,1757.0 1417.2,1756.1 1424.8,1755.2 1432.4,1754.2 1440.1,1753.3 1447.7,1752.3 1455.3,1751.4 1462.9,1750.4 1470.5,1749.4 1478.2,1748.4 1485.8,1747.4 1493.4,1746.3 1501.0,1745.3 1508.6,1744.2 1516.3,1743.2 1523.9,1742.1 1531.5,1741.0 1539.1,1739.9 1546.7,1738.8 1554.4,1737.7 1562.0,1736.5 1569.6,1735.4 1577.2,1734.2 1584.8,1733.1 1592.5,1731.9 1600.1,1730.7 1607.7,1729.5 1615.3,1728.3 1622.9,1727.0 1630.6,1725.8 1638.2,1724.6 1645.8,1723.3 1653.4,1722.0 1661.0,1720.7 1668.7,1719.4 1676.3,1718.1 1683.9,1716.8 1691.5,1715.5 1699.1,1714.1 1706.8,1712.8 1714.4,1711.4 1722.0,1710.0 1729.6,1708.6 1737.2,1707.2 1744.9,1705.8 1752.5,1704.4 1760.1,1703.0 1767.7,1701.5 1775.3,1700.1 1783.0,1698.6 1790.6,1697.1 1798.2,1695.6 1805.8,1694.1 1813.4,1692.6 1821.1,1691.1 1828.7,1689.6 1836.3,1688.0 1843.9,1686.5 1851.5,1684.9 1859.2,1683.3 1866.8,1681.7 1874.4,1680.1 1882.0,1678.5 1889.6,1676.9 1897.3,1675.3 1904.9,1673.6 1912.5,1672.0" fill="none" stroke="#34d834" stroke-width="6.5" stroke-linejoin="round"/><path d="M388.5,1803.6 V1055.8 H1912.5 V1803.6 H388.5" fill="none" stroke="#1e1e1e" stroke-width="4.6"/><polyline points="388.5,1803.1 396.1,1803.1 403.7,1803.0 411.4,1803.0 419.0,1803.0 426.6,1802.9 434.2,1802.9 441.8,1802.9 449.5,1802.8 457.1,1802.8 464.7,1802.8 472.3,1802.7 479.9,1802.7 487.6,1802.6 495.2,1802.6 502.8,1802.5 510.4,1802.5 518.0,1802.4 525.7,1802.3 533.3,1802.3 540.9,1802.2 548.5,1802.1 556.1,1802.1 563.8,1802.0 571.4,1801.9 579.0,1801.8 586.6,1801.8 594.2,1801.7 601.9,1801.6 609.5,1801.5 617.1,1801.4 624.7,1801.3 632.3,1801.2 640.0,1801.1 647.6,1801.0 655.2,1800.9 662.8,1800.8 670.4,1800.7 678.1,1800.5 685.7,1800.4 693.3,1800.3 700.9,1800.2 708.5,1800.0 716.2,1799.9 723.8,1799.7 731.4,1799.6 739.0,1799.4 746.6,1799.3 754.3,1799.1 761.9,1798.9 769.5,1798.8 777.1,1798.6 784.7,1798.4 792.4,1798.2 800.0,1798.0 807.6,1797.8 815.2,1797.6 822.8,1797.4 830.5,1797.2 838.1,1796.9 845.7,1796.7 853.3,1796.5 860.9,1796.2 868.6,1796.0 876.2,1795.7 883.8,1795.5 891.4,1795.2 899.0,1794.9 906.7,1794.6 914.3,1794.4 921.9,1794.1 929.5,1793.8 937.1,1793.5 944.8,1793.1 952.4,1792.8 960.0,1792.5 967.6,1792.2 975.2,1791.8 982.9,1791.5 990.5,1791.1 998.1,1790.7 1005.7,1790.4 1013.3,1790.0 1021.0,1789.6 1028.6,1789.2 1036.2,1788.8 1043.8,1788.4 1051.4,1787.9 1059.1,1787.5 1066.7,1787.1 1074.3,1786.6 1081.9,1786.1 1089.5,1785.7 1097.2,1785.2 1104.8,1784.7 1112.4,1784.2 1120.0,1783.7 1127.6,1783.2 1135.3,1782.7 1142.9,1782.1 1150.5,1781.6 1158.1,1781.0 1165.7,1780.5 1173.4,1779.9 1181.0,1779.3 1188.6,1778.7 1196.2,1778.1 1203.8,1777.5 1211.5,1776.9 1219.1,1776.3 1226.7,1775.6 1234.3,1775.0 1241.9,1774.3 1249.6,1773.6 1257.2,1773.0 1264.8,1772.3 1272.4,1771.6 1280.0,1770.8 1287.7,1770.1 1295.3,1769.4 1302.9,1768.6 1310.5,1767.9 1318.1,1767.1 1325.8,1766.3 1333.4,1765.5 1341.0,1764.7 1348.6,1763.9 1356.2,1763.1 1363.9,1762.3 1371.5,1761.4 1379.1,1760.6 1386.7,1759.7 1394.3,1758.8 1402.0,1757.9 1409.6,1757.0 1417.2,1756.1 1424.8,1755.2 1432.4,1754.2 1440.1,1753.3 1447.7,1752.3 1455.3,1751.4 1462.9,1750.4 1470.5,1749.4 1478.2,1748.4 1485.8,1747.4 1493.4,1746.3 1501.0,1745.3 1508.6,1744.2 1516.3,1743.2 1523.9,1742.1 1531.5,1741.0 1539.1,1739.9 1546.7,1738.8 1554.4,1737.7 1562.0,1736.5 1569.6,1735.4 1577.2,1734.2 1584.8,1733.1 1592.5,1731.9 1600.1,1730.7 1607.7,1729.5 1615.3,1728.3 1622.9,1727.0 1630.6,1725.8 1638.2,1724.6 1645.8,1723.3 1653.4,1722.0 1661.0,1720.7 1668.7,1719.4 1676.3,1718.1 1683.9,1716.8 1691.5,1715.5 1699.1,1714.1 1706.8,1712.8 1714.4,1711.4 1722.0,1710.0 1729.6,1708.6 1737.2,1707.2 1744.9,1705.8 1752.5,1704.4 1760.1,1703.0 1767.7,1701.5 1775.3,1700.1 1783.0,1698.6 1790.6,1697.1 1798.2,1695.6 1805.8,1694.1 1813.4,1692.6 1821.1,1691.1 1828.7,1689.6 1836.3,1688.0 1843.9,1686.5 1851.5,1684.9 1859.2,1683.3 1866.8,1681.7 1874.4,1680.1 1882.0,1678.5 1889.6,1676.9 1897.3,1675.3 1904.9,1673.6 1912.5,1672.0" fill="none" stroke="#34d834" stroke-opacity="0.45" stroke-width="6.5" stroke-linejoin="round"/><line x1="362.5" y1="1803.6" x2="388.5" y2="1803.6" stroke="#1e1e1e" stroke-width="4.4"/><line x1="375.5" y1="1728.8" x2="388.5" y2="1728.8" stroke="#1e1e1e" stroke-width="4.4"/><line x1="362.5" y1="1654.0" x2="388.5" y2="1654.0" stroke="#1e1e1e" stroke-width="4.4"/><line x1="375.5" y1="1579.3" x2="388.5" y2="1579.3" stroke="#1e1e1e" stroke-width="4.4"/><line x1="362.5" y1="1504.5" x2="388.5" y2="1504.5" stroke="#1e1e1e" stroke-width="4.4"/><line x1="375.5" y1="1429.7" x2="388.5" y2="1429.7" stroke="#1e1e1e" stroke-width="4.4"/><line x1="362.5" y1="1354.9" x2="388.5" y2="1354.9" stroke="#1e1e1e" stroke-width="4.4"/><line x1="375.5" y1="1280.1" x2="388.5" y2="1280.1" stroke="#1e1e1e" stroke-width="4.4"/><line x1="362.5" y1="1205.4" x2="388.5" y2="1205.4" stroke="#1e1e1e" stroke-width="4.4"/><line x1="375.5" y1="1130.6" x2="388.5" y2="1130.6" stroke="#1e1e1e" stroke-width="4.4"/><line x1="362.5" y1="1055.8" x2="388.5" y2="1055.8" stroke="#1e1e1e" stroke-width="4.4"/><line x1="388.5" y1="1803.6" x2="388.5" y2="1830.6" stroke="#1e1e1e" stroke-width="4.4"/><line x1="483.8" y1="1803.6" x2="483.8" y2="1818.6" stroke="#1e1e1e" stroke-width="4.4"/><line x1="579.0" y1="1803.6" x2="579.0" y2="1830.6" stroke="#1e1e1e" stroke-width="4.4"/><line x1="674.2" y1="1803.6" x2="674.2" y2="1818.6" stroke="#1e1e1e" stroke-width="4.4"/><line x1="769.5" y1="1803.6" x2="769.5" y2="1830.6" stroke="#1e1e1e" stroke-width="4.4"/><line x1="864.8" y1="1803.6" x2="864.8" y2="1818.6" stroke="#1e1e1e" stroke-width="4.4"/><line x1="960.0" y1="1803.6" x2="960.0" y2="1830.6" stroke="#1e1e1e" stroke-width="4.4"/><line x1="1055.2" y1="1803.6" x2="1055.2" y2="1818.6" stroke="#1e1e1e" stroke-width="4.4"/><line x1="1150.5" y1="1803.6" x2="1150.5" y2="1830.6" stroke="#1e1e1e" stroke-width="4.4"/><line x1="1245.8" y1="1803.6" x2="1245.8" y2="1818.6" stroke="#1e1e1e" stroke-width="4.4"/><line x1="1341.0" y1="1803.6" x2="1341.0" y2="1830.6" stroke="#1e1e1e" stroke-width="4.4"/><line x1="1436.2" y1="1803.6" x2="1436.2" y2="1818.6" stroke="#1e1e1e" stroke-width="4.4"/><line x1="1531.5" y1="1803.6" x2="1531.5" y2="1830.6" stroke="#1e1e1e" stroke-width="4.4"/><line x1="1626.8" y1="1803.6" x2="1626.8" y2="1818.6" stroke="#1e1e1e" stroke-width="4.4"/><line x1="1722.0" y1="1803.6" x2="1722.0" y2="1830.6" stroke="#1e1e1e" stroke-width="4.4"/><line x1="1817.2" y1="1803.6" x2="1817.2" y2="1818.6" stroke="#1e1e1e" stroke-width="4.4"/><line x1="1912.5" y1="1803.6" x2="1912.5" y2="1830.6" stroke="#1e1e1e" stroke-width="4.4"/><text transform="translate(346.5,1817.1) scale(1,1.035)" font-size="67" text-anchor="end" fill="#1a1a1a">0</text><text transform="translate(327.5,1679.0) scale(1,1.035)" font-size="67" text-anchor="end" fill="#1a1a1a">1x10</text><text transform="translate(328.0,1646.0) scale(1,1.035)" font-size="40" fill="#4a4a4a">8</text><text transform="translate(327.5,1529.5) scale(1,1.035)" font-size="67" text-anchor="end" fill="#1a1a1a">2x10</text><text transform="translate(328.0,1496.5) scale(1,1.035)" font-size="40" fill="#4a4a4a">8</text><text transform="translate(327.5,1379.9) scale(1,1.035)" font-size="67" text-anchor="end" fill="#1a1a1a">3x10</text><text transform="translate(328.0,1346.9) scale(1,1.035)" font-size="40" fill="#4a4a4a">8</text><text transform="translate(327.5,1230.4) scale(1,1.035)" font-size="67" text-anchor="end" fill="#1a1a1a">4x10</text><text transform="translate(328.0,1197.4) scale(1,1.035)" font-size="40" fill="#4a4a4a">8</text><text transform="translate(327.5,1080.8) scale(1,1.035)" font-size="67" text-anchor="end" fill="#1a1a1a">5x10</text><text transform="translate(328.0,1047.8) scale(1,1.035)" font-size="40" fill="#4a4a4a">8</text><text transform="translate(388.5,1897.1) scale(1,1.035)" font-size="67" text-anchor="middle" fill="#1a1a1a">500</text><text transform="translate(579.0,1897.1) scale(1,1.035)" font-size="67" text-anchor="middle" fill="#1a1a1a">550</text><text transform="translate(769.5,1897.1) scale(1,1.035)" font-size="67" text-anchor="middle" fill="#1a1a1a">600</text><text transform="translate(960.0,1897.1) scale(1,1.035)" font-size="67" text-anchor="middle" fill="#1a1a1a">650</text><text transform="translate(1150.5,1897.1) scale(1,1.035)" font-size="67" text-anchor="middle" fill="#1a1a1a">700</text><text transform="translate(1341.0,1897.1) scale(1,1.035)" font-size="67" text-anchor="middle" fill="#1a1a1a">750</text><text transform="translate(1531.5,1897.1) scale(1,1.035)" font-size="67" text-anchor="middle" fill="#1a1a1a">800</text><text transform="translate(1722.0,1897.1) scale(1,1.035)" font-size="67" text-anchor="middle" fill="#1a1a1a">850</text><text transform="translate(1912.5,1897.1) scale(1,1.035)" font-size="67" text-anchor="middle" fill="#1a1a1a">900</text><text transform="translate(1150.5,1987.7) scale(1,1.035)" font-size="72" text-anchor="middle" fill="#1a1a1a">Wavelength (nm)</text><text transform="translate(144.0,1483.0) rotate(-90) scale(1,1.035)" font-size="72" text-anchor="middle" fill="#1a1a1a">Intensity (W/m<tspan font-size="42" dy="-34">3</tspan><tspan dy="34">/sr)</tspan></text><rect x="414" y="1108" width="161" height="6" fill="#efefef" stroke="#c2c2c2" stroke-width="1.8"/><line x1="414" y1="1199.5" x2="575" y2="1199.5" stroke="#34d834" stroke-width="6"/><text transform="translate(592.0,1136.5) scale(1,1.035)" font-size="71.5" fill="#1a1a1a">Spectral radiant intensity of measrued</text><text transform="translate(592.0,1224.0) scale(1,1.035)" font-size="71.5" fill="#1a1a1a">Spectral radiant intensity of re<tspan dy="5">_</tspan><tspan dy="-5">calculated</tspan></text><text transform="translate(440.0,1422.0) scale(1,1.035)" font-size="71.5" fill="#1a1a1a">Capacity 34.40 ton/h</text></g>
<g><path d="M1397.8,2740.6 L1399.4,2713.6 L1399.8,2208.0 L1404.2,2208.0 L1404.6,2713.6 L1406.2,2740.6" fill="#d4d4d4" stroke="#9a9a9a" stroke-width="1.7" stroke-linejoin="round"/><path d="M1411.3,2738.8 L1412.9,2711.8 L1413.3,2271.0 L1417.7,2271.0 L1418.1,2711.8 L1419.7,2738.8" fill="#d4d4d4" stroke="#9a9a9a" stroke-width="1.7" stroke-linejoin="round"/><polyline points="388.5,2791.6 389.5,2791.5 390.4,2791.8 391.4,2791.6 392.3,2791.1 393.3,2791.3 394.2,2791.5 395.2,2791.2 396.1,2791.2 397.1,2791.3 398.0,2791.3 399.0,2791.4 399.9,2791.2 400.9,2791.1 401.8,2791.1 402.8,2790.8 403.7,2791.0 404.7,2790.9 405.6,2790.7 406.6,2790.8 407.6,2791.3 408.5,2790.9 409.5,2791.0 410.4,2791.0 411.4,2790.6 412.3,2790.5 413.3,2790.7 414.2,2791.1 415.2,2790.8 416.1,2790.7 417.1,2790.7 418.0,2790.3 419.0,2790.5 419.9,2790.4 420.9,2790.5 421.8,2790.3 422.8,2790.5 423.7,2790.6 424.7,2790.4 425.6,2790.5 426.6,2790.6 427.6,2790.7 428.5,2790.4 429.5,2790.3 430.4,2789.8 431.4,2790.3 432.3,2790.3 433.3,2790.1 434.2,2789.9 435.2,2790.3 436.1,2790.0 437.1,2789.7 438.0,2789.6 439.0,2790.1 439.9,2790.2 440.9,2789.9 441.8,2789.9 442.8,2789.6 443.7,2789.6 444.7,2789.7 445.6,2789.9 446.6,2789.6 447.6,2789.8 448.5,2789.8 449.5,2789.6 450.4,2789.1 451.4,2789.1 452.3,2789.2 453.3,2789.8 454.2,2789.3 455.2,2789.5 456.1,2789.2 457.1,2789.1 458.0,2789.1 459.0,2789.4 459.9,2789.4 460.9,2789.0 461.8,2788.9 462.8,2789.3 463.7,2789.3 464.7,2789.1 465.7,2789.2 466.6,2788.8 467.6,2788.8 468.5,2788.8 469.5,2789.1 470.4,2789.2 471.4,2789.1 472.3,2789.0 473.3,2788.8 474.2,2788.9 475.2,2789.0 476.1,2788.8 477.1,2788.8 478.0,2789.0 479.0,2789.1 479.9,2788.8 480.9,2788.7 481.8,2788.8 482.8,2789.1 483.8,2788.8 484.7,2788.9 485.7,2788.9 486.6,2788.9 487.6,2789.0 488.5,2789.0 489.5,2788.8 490.4,2788.8 491.4,2788.8 492.3,2789.1 493.3,2788.8 494.2,2788.5 495.2,2789.0 496.1,2788.8 497.1,2788.8 498.0,2788.7 499.0,2788.6 499.9,2788.9 500.9,2788.5 501.8,2788.6 502.8,2788.8 503.8,2788.6 504.7,2788.4 505.7,2788.4 506.6,2788.7 507.6,2788.5 508.5,2788.7 509.5,2788.8 510.4,2788.1 511.4,2788.4 512.3,2788.4 513.3,2788.7 514.2,2788.5 515.2,2788.7 516.1,2788.2 517.1,2788.7 518.0,2788.5 519.0,2788.4 519.9,2788.6 520.9,2788.3 521.9,2788.5 522.8,2788.5 523.8,2788.5 524.7,2788.9 525.7,2788.3 526.6,2788.3 527.6,2788.4 528.5,2788.4 529.5,2788.7 530.4,2788.4 531.4,2788.6 532.3,2788.5 533.3,2788.7 534.2,2788.5 535.2,2788.2 536.1,2788.3 537.1,2788.6 538.0,2788.5 539.0,2788.1 539.9,2788.4 540.9,2788.1 541.9,2788.0 542.8,2788.1 543.8,2788.5 544.7,2788.8 545.7,2787.9 546.6,2788.6 547.6,2788.6 548.5,2788.4 549.5,2788.3 550.4,2788.1 551.4,2788.4 552.3,2788.4 553.3,2788.0 554.2,2788.4 555.2,2787.6 556.1,2788.5 557.1,2788.1 558.0,2787.9 559.0,2788.1 560.0,2788.5 560.9,2788.1 561.9,2787.8 562.8,2788.2 563.8,2788.4 564.7,2788.1 565.7,2788.5 566.6,2787.9 567.6,2787.8 568.5,2788.0 569.5,2788.2 570.4,2787.7 571.4,2787.6 572.3,2787.7 573.3,2788.0 574.2,2787.8 575.2,2788.1 576.1,2787.6 577.1,2788.0 578.0,2788.1 579.0,2787.9 580.0,2787.7 580.9,2787.9 581.9,2787.9 582.8,2788.0 583.8,2787.8 584.7,2787.8 585.7,2787.7 586.6,2787.8 587.6,2787.8 588.5,2787.9 589.5,2787.3 590.4,2788.1 591.4,2787.6 592.3,2787.4 593.3,2788.1 594.2,2788.0 595.2,2787.5 596.1,2787.0 597.1,2787.4 598.0,2787.7 599.0,2787.7 600.0,2787.7 600.9,2787.9 601.9,2787.7 602.8,2787.3 603.8,2787.6 604.7,2787.4 605.7,2787.3 606.6,2787.6 607.6,2787.5 608.5,2787.4 609.5,2787.6 610.4,2787.4 611.4,2787.2 612.3,2787.4 613.3,2787.8 614.2,2787.3 615.2,2787.4 616.1,2787.3 617.1,2787.6 618.1,2787.3 619.0,2787.3 620.0,2787.4 620.9,2787.4 621.9,2787.3 622.8,2787.7 623.8,2787.1 624.7,2787.3 625.7,2786.9 626.6,2787.6 627.6,2787.3 628.5,2787.1 629.5,2787.0 630.4,2787.2 631.4,2786.8 632.3,2787.2 633.3,2786.9 634.2,2787.0 635.2,2787.1 636.1,2787.2 637.1,2787.1 638.1,2787.1 639.0,2786.9 640.0,2787.1 640.9,2787.2 641.9,2786.8 642.8,2786.9 643.8,2786.7 644.7,2786.8 645.7,2786.4 646.6,2786.6 647.6,2786.7 648.5,2786.7 649.5,2786.5 650.4,2786.7 651.4,2786.6 652.3,2786.8 653.3,2786.3 654.2,2786.7 655.2,2787.4 656.2,2786.5 657.1,2786.7 658.1,2786.6 659.0,2786.4 660.0,2787.2 660.9,2787.0 661.9,2786.6 662.8,2786.8 663.8,2786.3 664.7,2786.4 665.7,2786.6 666.6,2786.2 667.6,2786.9 668.5,2786.4 669.5,2786.2 670.4,2786.0 671.4,2786.2 672.3,2786.0 673.3,2786.2 674.2,2786.3 675.2,2786.2 676.2,2785.6 677.1,2785.7 678.1,2786.1 679.0,2786.1 680.0,2786.0 680.9,2786.5 681.9,2786.3 682.8,2786.1 683.8,2786.3 684.7,2786.1 685.7,2786.4 686.6,2786.1 687.6,2785.8 688.5,2786.0 689.5,2785.8 690.4,2786.0 691.4,2786.1 692.3,2785.9 693.3,2786.3 694.3,2786.1 695.2,2785.9 696.2,2786.0 697.1,2785.7 698.1,2786.0 699.0,2785.5 700.0,2785.5 700.9,2785.7 701.9,2785.9 702.8,2786.0 703.8,2785.5 704.7,2785.7 705.7,2784.9 706.6,2785.4 707.6,2785.2 708.5,2785.8 709.5,2785.6 710.4,2785.6 711.4,2786.1 712.4,2785.4 713.3,2785.5 714.3,2785.4 715.2,2785.2 716.2,2784.9 717.1,2785.0 718.1,2784.6" fill="none" stroke="#c4c4c4" stroke-width="1.6" stroke-linejoin="round"/><polyline points="718.1,2784.6 719.0,2785.1 720.0,2784.7 720.9,2785.0 721.9,2784.8 722.8,2784.4 723.2,2784.1 725.9,2725.0 728.2,2725.0 730.8,2784.1 731.4,2784.0 732.4,2783.9 733.3,2783.8 734.3,2783.5 735.2,2783.6 736.2,2783.7 737.1,2783.9 738.1,2783.8 738.7,2783.5 739.7,2776.5 740.3,2776.5 741.3,2783.5 741.9,2783.2 742.8,2783.0 743.8,2783.0 744.7,2782.3 745.7,2782.6 746.6,2782.7 747.6,2782.6 748.5,2783.3 749.5,2782.8 750.5,2782.2 751.4,2782.2 752.4,2782.7 753.3,2783.0 754.3,2782.8 755.2,2782.3 756.2,2782.5 757.1,2782.1 758.1,2782.4 759.0,2782.3 760.0,2782.2 760.9,2782.4 761.9,2782.4 762.8,2782.5 763.8,2782.3 764.7,2782.2 765.7,2782.0 766.6,2782.2 767.6,2782.3 768.5,2782.5 769.5,2782.4 770.5,2782.0 771.4,2782.1 772.4,2781.8 773.3,2782.1 774.3,2782.2 775.2,2781.7 776.2,2781.8 777.1,2781.7 778.1,2782.3 779.0,2782.0 780.0,2781.9 780.9,2781.9 781.9,2782.5 782.8,2781.9 783.8,2781.9 784.7,2781.6 785.7,2781.9 786.6,2781.8 787.6,2781.8 788.5,2782.1 789.5,2781.6 790.5,2781.2 791.4,2782.0 792.4,2781.3 793.3,2781.2 794.3,2782.0 795.2,2782.0 796.2,2781.8 797.1,2781.9 798.1,2781.8 799.0,2781.8 800.0,2781.6 800.9,2781.4 801.9,2781.3 802.8,2781.5 803.8,2781.7 804.7,2781.3 805.7,2781.2 806.6,2781.6 807.6,2781.2 808.6,2781.6 809.5,2781.5 810.5,2781.3 811.4,2781.3 812.4,2780.9 813.3,2781.3 814.3,2781.1 815.2,2780.9 816.2,2781.6 817.1,2780.9 818.1,2780.8 819.0,2781.1 820.0,2780.8 820.9,2781.3 821.9,2781.3 822.8,2781.4 823.8,2780.5 824.7,2781.2 825.7,2780.8 826.6,2781.4 827.6,2780.6 828.6,2781.2 829.5,2781.0 830.5,2781.5 831.4,2781.1 832.4,2780.5 833.3,2781.1 834.3,2780.2 835.2,2780.0 836.2,2780.7 837.1,2781.0 838.1,2780.7 839.0,2780.5 840.0,2781.1 840.9,2780.7 841.9,2780.5 842.8,2780.3 843.8,2781.0 844.7,2780.4 845.7,2780.4 846.7,2780.0 847.6,2780.2 848.6,2780.0 849.5,2780.1 850.5,2780.5 851.4,2779.4 852.4,2780.0 853.3,2780.1 854.3,2780.3 855.2,2779.7 856.2,2780.1 857.1,2779.9 858.1,2780.0 859.0,2780.0 860.0,2780.4 860.9,2780.1 861.9,2779.4 862.8,2779.8 863.8,2780.1 864.8,2780.1 865.7,2780.1 866.7,2779.9 867.6,2779.8 868.6,2779.3 869.5,2779.6 870.5,2779.2 871.4,2780.1 872.4,2779.7 873.3,2780.2 874.3,2780.2 875.2,2779.5 876.2,2780.0 877.1,2779.4 878.1,2779.7 879.0,2779.1 880.0,2779.0 880.9,2779.8 881.9,2779.1 882.8,2779.3 883.8,2779.1 884.8,2779.4 885.7,2778.8 886.7,2778.9 887.6,2779.1 888.6,2779.6 889.5,2779.8 890.5,2778.7 891.4,2778.9 892.4,2779.4 893.3,2779.2 894.3,2778.1 895.2,2779.2 896.2,2778.7 897.1,2778.4 898.1,2778.1 899.0,2778.6 900.0,2778.6 900.9,2779.0 901.9,2778.5 902.9,2778.6 903.8,2778.9 904.8,2778.9 905.7,2778.1 906.7,2778.1 907.6,2777.6 908.6,2778.5 909.5,2779.0 910.5,2777.7 911.4,2778.1 912.4,2777.7 913.3,2778.4 914.3,2778.3 915.2,2777.7 916.2,2778.4 917.1,2778.1 918.1,2778.1 919.0,2777.7 920.0,2777.7 920.9,2778.2 921.9,2777.6 922.9,2777.9 923.8,2777.9 924.8,2777.7 925.7,2777.5 926.7,2777.8 927.6,2777.5 928.6,2777.9 929.5,2778.1 930.5,2777.9 931.4,2777.5 932.4,2777.5 933.3,2777.4 934.3,2777.9 935.2,2777.6 936.2,2777.3 937.1,2777.1 938.1,2777.1 939.0,2777.3 940.0,2777.4 941.0,2777.6 941.9,2777.3 942.9,2776.7 943.8,2777.1 944.8,2777.2 945.7,2776.9 946.7,2776.1 947.6,2777.0 948.6,2777.2 949.5,2777.4 950.5,2777.4 951.4,2776.6 952.4,2776.6 953.3,2776.9 954.3,2776.5 955.2,2776.4 956.2,2776.8 957.1,2776.4 958.1,2776.2 959.0,2776.9 960.0,2776.4 961.0,2776.3 961.9,2776.9 962.9,2775.5 963.8,2775.9 964.8,2775.6 965.7,2776.6 966.7,2776.1 967.6,2775.7 968.6,2776.2 969.5,2775.3 970.5,2776.3 971.4,2775.9 972.4,2776.0 973.3,2776.4 974.3,2775.8 975.2,2775.7 976.2,2776.0 977.1,2775.8 978.1,2775.3 979.0,2775.3 980.0,2775.4 981.0,2775.2 981.9,2775.0 982.9,2775.4 983.8,2775.6 984.8,2775.3 985.7,2775.2 986.7,2775.4 987.6,2775.1 988.6,2775.0 989.5,2774.7 990.5,2775.3 991.4,2774.6 992.4,2775.0 993.3,2775.4 994.3,2774.5 995.2,2774.6 996.2,2774.7 997.1,2775.1 998.1,2774.4 999.1,2775.0 1000.0,2774.9 1001.0,2774.6 1001.9,2774.2 1002.9,2774.4 1003.8,2774.4 1004.8,2774.7 1005.7,2774.0 1006.7,2774.4 1007.6,2774.0 1008.6,2773.2 1009.5,2774.0 1010.5,2774.4 1011.4,2774.5 1012.4,2774.3 1013.3,2774.3 1014.3,2773.8 1015.2,2773.4 1016.2,2773.8 1017.1,2773.8 1018.1,2773.5 1019.1,2773.9 1020.0,2773.7 1021.0,2773.2 1021.9,2773.1 1022.9,2773.6 1023.8,2773.5 1024.8,2773.5 1025.7,2773.2 1026.7,2772.7 1027.6,2773.2 1028.6,2773.6 1029.5,2772.7 1030.5,2772.7 1031.4,2772.6 1032.4,2772.7 1033.3,2773.0 1034.3,2773.2 1035.2,2772.6 1036.2,2772.9 1037.2,2772.7 1038.1,2772.2 1039.1,2773.2 1040.0,2773.1 1041.0,2773.0 1041.9,2772.7 1042.9,2772.4 1043.8,2772.2 1044.8,2772.6 1045.7,2771.8 1046.7,2772.3 1047.6,2771.9 1048.6,2771.5 1049.5,2771.6 1050.5,2772.1 1051.4,2771.9 1052.4,2771.7 1053.3,2771.5 1054.3,2772.2 1055.2,2772.1 1056.2,2771.9 1057.2,2771.2 1058.1,2771.5 1059.1,2771.5 1060.0,2771.9 1061.0,2771.9 1061.9,2771.2 1062.9,2771.6 1063.8,2770.9 1064.8,2771.5 1065.7,2771.0 1066.7,2770.8 1067.6,2770.8 1068.6,2770.9 1069.5,2770.1 1070.5,2770.9 1071.4,2770.6 1072.4,2770.8 1073.3,2770.3 1074.3,2770.2 1075.3,2770.1 1076.2,2770.4 1077.2,2770.1 1078.1,2770.7 1079.1,2770.4 1080.0,2770.0 1081.0,2771.0 1081.9,2770.7 1082.9,2769.8 1083.8,2770.0 1084.8,2770.1 1085.7,2770.0 1086.7,2769.3 1087.6,2769.6 1088.6,2769.9 1089.5,2770.2 1090.5,2769.6 1091.4,2770.0 1092.4,2769.6 1093.3,2769.7 1094.3,2768.9 1095.3,2769.6 1096.2,2769.3 1097.2,2768.7 1098.1,2769.9 1099.1,2769.3 1100.0,2769.6 1101.0,2768.4 1101.9,2768.7 1102.9,2768.9 1103.8,2768.7 1104.8,2768.4 1105.7,2768.4 1106.7,2768.5 1107.6,2768.2 1108.6,2768.3 1109.5,2767.7 1110.5,2768.7 1111.4,2768.4 1112.4,2767.9 1113.4,2767.8 1114.3,2768.3 1115.3,2767.5 1116.2,2767.6 1117.2,2767.2 1118.1,2767.9 1119.1,2767.3 1120.0,2767.7 1121.0,2767.5 1121.9,2767.3 1122.9,2767.6 1123.8,2767.5 1124.8,2766.7 1125.7,2767.6 1126.7,2767.0 1127.6,2766.7 1128.6,2766.5 1129.5,2767.1 1130.5,2767.3 1131.5,2766.5 1132.4,2767.0 1133.4,2766.8 1134.3,2767.0 1135.3,2767.2 1136.2,2766.8 1137.2,2766.6 1138.1,2767.1 1139.1,2765.9 1140.0,2766.4 1141.0,2765.6 1141.9,2765.7 1142.9,2766.3 1143.8,2766.0 1144.8,2766.1 1145.7,2765.9 1146.7,2765.8 1147.6,2765.6 1148.6,2765.5 1149.5,2765.6 1150.5,2765.8" fill="none" stroke="#6a6a6a" stroke-width="1.7" stroke-linejoin="round"/><polyline points="1150.5,2765.8 1151.5,2766.1 1152.4,2765.3 1153.4,2765.4 1154.3,2765.0 1155.3,2765.4 1156.2,2765.0 1157.2,2765.4 1158.1,2764.8 1159.1,2764.9 1160.0,2764.6 1161.0,2763.7 1161.9,2764.3 1162.9,2764.5 1163.8,2764.3 1164.8,2764.3 1165.7,2764.3 1166.7,2764.1 1167.6,2764.1 1168.6,2764.0 1169.5,2762.8 1170.5,2763.5 1171.5,2763.1 1172.4,2763.5 1173.4,2763.4 1174.3,2762.6 1175.3,2764.0 1176.2,2763.3 1177.2,2763.1 1178.1,2762.9 1179.1,2763.3 1180.0,2763.2 1181.0,2763.5 1181.9,2763.1 1182.9,2763.5 1183.8,2762.4 1184.8,2762.7 1185.7,2762.9 1186.7,2761.8 1187.6,2762.3 1188.6,2762.6 1189.6,2762.0 1190.5,2762.3 1191.5,2762.8 1192.4,2761.9 1193.4,2761.2 1194.3,2762.4 1195.3,2763.2 1196.2,2761.3 1197.2,2761.3 1198.1,2761.0 1199.1,2761.4 1200.0,2760.6 1201.0,2762.5 1201.9,2761.1 1202.9,2759.6 1203.8,2761.0 1204.8,2760.9 1205.7,2760.9 1206.7,2760.9 1207.7,2760.8 1208.6,2761.0 1209.6,2760.1 1210.5,2761.1 1211.5,2761.0 1212.4,2758.4 1213.4,2759.9 1214.3,2761.8 1215.3,2759.6 1216.2,2760.8 1217.2,2759.6 1218.1,2759.9 1219.1,2759.3 1220.0,2759.3 1221.0,2758.2 1221.9,2757.1 1222.9,2759.0 1223.8,2758.9 1224.8,2758.8 1225.7,2758.7 1226.7,2759.6 1227.7,2758.6 1228.6,2758.2 1229.6,2758.4 1230.5,2758.8 1231.5,2758.9 1232.4,2760.0 1233.4,2756.2 1234.3,2757.6 1235.3,2757.2 1236.2,2757.9 1237.2,2758.0 1238.1,2758.3 1239.1,2757.3 1240.0,2758.0 1241.0,2757.6 1241.9,2756.6 1242.9,2754.9 1243.8,2757.1 1244.8,2756.5 1245.8,2756.7 1246.7,2756.5 1247.7,2757.2 1248.6,2754.4 1249.6,2756.3 1250.5,2756.1 1251.5,2756.0 1252.4,2756.0 1253.4,2755.7 1254.3,2757.1 1255.3,2753.8 1256.2,2756.1 1257.2,2755.6 1258.1,2755.7 1259.1,2755.8 1260.0,2755.6 1261.0,2755.5 1261.9,2754.7 1262.9,2755.4 1263.8,2754.7 1264.8,2754.6 1265.8,2753.6 1266.7,2754.1 1267.7,2755.0 1268.6,2755.0 1269.6,2754.3 1270.5,2754.0 1271.5,2754.4 1272.4,2753.5 1273.4,2754.9 1274.3,2754.8 1275.3,2754.1 1276.2,2753.3 1277.2,2754.1 1278.1,2753.4 1279.1,2752.6 1280.0,2752.9 1281.0,2753.2 1281.9,2752.2 1282.9,2754.5 1283.8,2753.2 1284.8,2752.5 1285.8,2753.1 1286.7,2751.9 1287.7,2751.1 1288.6,2753.2 1289.6,2751.5 1290.5,2751.8 1291.5,2752.2 1292.4,2751.7 1293.4,2751.4 1294.3,2751.6 1295.3,2751.4 1296.2,2750.8 1297.2,2751.5 1298.1,2751.2 1299.1,2750.1 1300.0,2751.1 1301.0,2751.2 1301.9,2750.7 1302.9,2750.1 1303.9,2751.0 1304.8,2750.6 1305.8,2750.7 1306.7,2749.3 1307.7,2749.5 1308.6,2749.8 1309.6,2749.3 1310.5,2750.6 1311.5,2750.1 1312.4,2749.4 1313.4,2747.8 1314.3,2750.2 1315.3,2749.1 1316.2,2749.3 1317.2,2749.2 1318.1,2748.9 1319.1,2747.6 1320.0,2747.9 1321.0,2748.9 1322.0,2748.3 1322.9,2749.0 1323.9,2748.7 1324.8,2747.5 1325.8,2747.2 1326.7,2746.5 1327.7,2747.8 1328.6,2747.5 1329.6,2746.5 1330.5,2747.8 1331.5,2747.2 1332.4,2747.7 1333.4,2745.8 1334.3,2744.7 1335.3,2746.3 1336.2,2746.2 1337.2,2747.3 1338.1,2746.9 1339.1,2746.3 1340.0,2746.0 1341.0,2746.3 1342.0,2745.8 1342.9,2745.5 1343.9,2746.1 1344.8,2745.7 1345.8,2745.9 1346.7,2746.2 1347.7,2742.8 1348.6,2744.2 1349.6,2745.3 1350.5,2744.1 1351.5,2744.0 1352.4,2745.2 1353.4,2744.9 1354.3,2744.9 1355.3,2743.9 1356.2,2743.6 1357.2,2744.5 1358.1,2745.0 1359.1,2744.0 1360.0,2743.1 1361.0,2743.5 1362.0,2743.7 1362.9,2744.5 1363.9,2743.0 1364.8,2743.5 1365.8,2743.2 1366.7,2743.0 1367.7,2743.2 1368.6,2743.4 1369.6,2742.6 1370.5,2742.3 1371.5,2741.4 1372.4,2741.0 1373.4,2741.6 1374.3,2742.2 1375.3,2741.3 1376.2,2742.3 1377.2,2741.9 1378.1,2741.6 1379.1,2740.6 1380.1,2741.4 1381.0,2740.4 1382.0,2741.0 1382.9,2741.5 1383.9,2740.8 1384.8,2741.8 1385.8,2741.0 1386.7,2740.1 1387.7,2740.9 1388.6,2739.0 1389.6,2740.9 1390.5,2740.0 1391.5,2743.2 1392.4,2740.0 1393.4,2740.4 1394.3,2739.9 1395.3,2738.8 1396.2,2739.0 1397.2,2738.8 1398.2,2739.5 1399.1,2739.9 1400.1,2739.4 1401.0,2738.1 1402.0,2738.9 1402.9,2739.7 1403.9,2737.3 1404.8,2737.3 1405.8,2737.1 1406.7,2739.4 1407.7,2739.1 1408.6,2736.5 1409.6,2736.7 1410.5,2737.3 1411.5,2737.1 1412.4,2737.1 1413.4,2738.4 1414.3,2736.4 1415.3,2737.1 1416.2,2738.0 1417.2,2736.2 1418.2,2737.1 1419.1,2735.3 1420.1,2735.4 1421.0,2736.2 1422.0,2735.4 1422.9,2735.7 1423.9,2735.5 1424.8,2732.8 1425.8,2738.0 1426.7,2735.9 1427.7,2735.4 1428.6,2736.0 1429.6,2735.5 1430.5,2733.6 1431.5,2734.2 1432.4,2735.0 1433.4,2734.4 1434.3,2733.4 1435.3,2733.9 1436.2,2732.6 1437.2,2734.5 1438.2,2733.4 1439.1,2735.8 1440.1,2734.0 1441.0,2732.9 1442.0,2732.5 1442.9,2733.2 1443.9,2735.2 1444.8,2732.6 1445.8,2732.1 1446.7,2731.5 1447.7,2733.7 1448.6,2732.1 1449.6,2732.5 1450.5,2730.7 1451.5,2731.8 1452.2,2731.3 1453.2,2708.0 1453.8,2708.0 1454.8,2731.3 1455.3,2731.8 1456.3,2732.1 1457.2,2730.7 1458.2,2730.9 1459.1,2729.5 1460.1,2731.7 1461.0,2729.4 1462.0,2729.3 1462.9,2730.9 1463.9,2732.2 1464.8,2731.6 1465.8,2730.5 1466.7,2726.3 1467.7,2725.0 1468.6,2729.4 1469.6,2728.9 1470.5,2729.9 1471.5,2729.5 1472.4,2724.9 1473.4,2730.2 1474.3,2728.2 1475.3,2727.8 1476.3,2727.7 1477.2,2724.7 1478.2,2727.1 1479.1,2728.3 1480.1,2728.5 1481.0,2725.3 1482.0,2727.3 1482.9,2728.0 1483.9,2723.2 1484.8,2727.1 1485.8,2725.4 1486.7,2727.6 1487.7,2725.3 1488.6,2725.7 1489.6,2724.0 1490.5,2724.6 1491.5,2725.4 1492.4,2726.3 1493.4,2726.0 1494.4,2725.2 1495.3,2724.4 1496.3,2723.7 1497.2,2725.4 1498.2,2725.6 1499.1,2726.5 1500.1,2723.5 1501.0,2723.8 1502.0,2720.3 1502.9,2723.2 1503.9,2726.1 1504.8,2723.2 1505.8,2721.6 1506.7,2718.5 1507.7,2724.1 1508.2,2723.0 1509.2,2706.0 1509.8,2706.0 1510.8,2723.0 1511.5,2722.1 1512.5,2724.3 1513.4,2723.3 1514.4,2722.8 1515.3,2723.3 1516.3,2724.2 1517.2,2721.7 1518.2,2720.7 1519.1,2723.1 1520.1,2719.8 1521.0,2721.3 1522.0,2721.0 1522.9,2719.0 1523.9,2718.7 1524.8,2722.1 1525.8,2720.8 1526.7,2719.8 1527.7,2721.1 1528.6,2720.5 1529.6,2721.1 1530.5,2718.0 1531.5,2716.7 1532.5,2716.7 1533.4,2720.3 1534.4,2719.4 1535.3,2720.2 1536.3,2717.7 1537.2,2718.5 1538.2,2722.9 1539.1,2720.4 1540.1,2720.2 1541.0,2716.2 1542.0,2720.3 1542.9,2716.9 1543.9,2718.3 1544.8,2716.4 1545.8,2718.6 1546.7,2720.2 1547.7,2714.5 1548.6,2717.7 1549.6,2720.3 1550.5,2714.4 1551.5,2718.5 1552.5,2715.4 1553.4,2716.4 1554.4,2714.4 1555.3,2716.4 1556.3,2717.1 1557.2,2716.4 1558.2,2716.2 1559.1,2713.5 1560.1,2714.0 1561.0,2709.3 1562.0,2716.9 1562.9,2714.2 1563.9,2715.9 1564.8,2712.8 1565.8,2713.4 1566.7,2712.7 1567.7,2709.3 1568.6,2713.7 1569.6,2716.2 1570.6,2714.5 1571.5,2709.7 1572.5,2713.2 1573.4,2715.2 1574.4,2716.1 1575.3,2714.1 1576.3,2712.6 1577.2,2709.3 1578.2,2709.9 1579.1,2713.8 1580.1,2713.4 1581.0,2711.1 1582.0,2709.4 1582.9,2711.3 1583.9,2714.5 1584.8,2711.6 1585.8,2710.3 1586.7,2707.3 1587.7,2712.8 1588.7,2709.9 1589.6,2710.6 1590.6,2707.8 1591.5,2709.0 1592.5,2709.3 1593.4,2708.4 1594.4,2709.5 1595.3,2708.9 1596.3,2708.5 1597.2,2711.2 1598.2,2709.7 1599.1,2707.1 1600.1,2701.7 1601.0,2701.1 1602.0,2709.5 1602.9,2702.2 1603.9,2707.9 1604.8,2711.2 1605.8,2709.0 1606.7,2708.4 1607.7,2707.2 1608.7,2708.3 1609.6,2707.2 1610.6,2708.1 1611.5,2703.1 1612.5,2703.4 1613.4,2705.5 1614.4,2706.0 1615.3,2707.6 1616.3,2706.5 1617.2,2698.6 1618.2,2705.0 1619.1,2702.7 1620.1,2703.7 1621.0,2706.3 1622.0,2704.0 1622.9,2705.8 1623.9,2703.1 1624.8,2698.3 1625.8,2705.3 1626.8,2701.2 1627.7,2707.1 1628.7,2704.0 1629.6,2705.3 1630.6,2706.0 1631.5,2704.9 1632.5,2700.8 1633.4,2701.9 1634.4,2702.7 1635.3,2695.8 1636.3,2703.8 1637.2,2702.0 1638.2,2703.0 1639.1,2696.7 1640.1,2697.5 1641.0,2701.8 1642.0,2700.1 1642.9,2701.0 1643.9,2702.0 1644.8,2702.7 1645.8,2703.7 1646.8,2701.4 1647.7,2700.7 1648.7,2699.5 1649.6,2700.8 1650.6,2704.3 1651.5,2698.7 1652.5,2698.4 1653.4,2702.8 1654.4,2698.1 1655.3,2703.2 1656.3,2697.7 1657.2,2699.5 1658.2,2696.6 1659.1,2694.4 1660.1,2699.2 1661.0,2691.5 1662.0,2693.4 1662.9,2697.4 1663.9,2700.2 1664.8,2695.3 1665.8,2695.1 1666.8,2697.5 1667.7,2697.1 1668.7,2698.4 1669.6,2695.7 1670.6,2695.7 1671.5,2696.6 1672.5,2694.9 1673.4,2694.9 1674.4,2694.0 1675.3,2699.9 1676.3,2688.9 1677.2,2691.6 1678.2,2693.5 1679.1,2694.6 1680.1,2692.0 1681.0,2691.7 1682.0,2694.6 1682.9,2693.4 1683.9,2687.2 1684.9,2688.7 1685.8,2693.0 1686.8,2691.2 1687.7,2689.2 1688.7,2695.1 1689.6,2691.1 1690.6,2689.1 1691.5,2692.7 1692.5,2690.5 1693.4,2693.0 1694.4,2690.6 1695.3,2694.1 1696.3,2689.7 1697.2,2692.8 1698.2,2687.2 1699.1,2691.8 1700.1,2691.1 1701.0,2691.8 1702.0,2687.6 1703.0,2688.8 1703.9,2685.1 1704.9,2686.7 1705.8,2690.8 1706.8,2690.2 1707.7,2683.6 1708.7,2689.7 1709.6,2688.7 1710.6,2685.5 1711.5,2688.3 1712.5,2687.2 1713.4,2689.3 1714.4,2685.6 1715.3,2687.1 1716.3,2688.1 1717.2,2687.6 1718.2,2686.1 1719.1,2686.5 1720.1,2689.5 1721.0,2683.6 1721.7,2688.1 1722.7,2671.7 1723.3,2671.7 1724.3,2688.1 1724.9,2685.0 1725.8,2684.8 1726.8,2685.1 1727.7,2687.4 1728.7,2689.9 1729.6,2684.0 1730.6,2684.4 1731.5,2681.3 1732.5,2680.9 1733.4,2686.8 1734.4,2680.0 1735.3,2685.1 1736.3,2683.7 1737.2,2674.2 1738.2,2679.9 1739.1,2680.8 1740.1,2681.0 1741.0,2677.3 1742.0,2680.9 1743.0,2683.2 1743.9,2680.8 1744.9,2683.5 1745.8,2678.6 1746.8,2680.9 1747.7,2682.1 1748.7,2678.1 1749.6,2678.8 1750.6,2677.5 1750.7,2682.4 1751.7,2668.8 1752.3,2668.8 1753.3,2682.4 1753.4,2683.7 1754.4,2674.9 1755.3,2678.9 1756.3,2678.8 1757.2,2679.1 1758.2,2678.7 1759.1,2681.0 1760.1,2673.5 1761.1,2671.6 1762.0,2674.9 1763.0,2679.6 1763.9,2677.4 1764.9,2679.2 1765.8,2678.5 1766.8,2677.5 1767.7,2679.0 1768.7,2679.4 1769.6,2670.4 1770.6,2677.9 1771.5,2669.7 1772.5,2677.1 1773.4,2674.3 1774.4,2678.9 1775.3,2677.8 1776.3,2671.4 1777.2,2675.0 1778.2,2675.8 1779.2,2670.4 1780.1,2670.9 1781.1,2676.0 1782.0,2673.9 1783.0,2674.2 1783.9,2674.8 1784.9,2672.2 1785.8,2673.5 1786.8,2663.3 1787.7,2674.6 1788.7,2674.2 1789.6,2669.8 1790.6,2681.4 1791.5,2672.4 1792.5,2673.0 1793.4,2670.0 1794.4,2673.8 1794.7,2671.7 1795.7,2650.0 1796.3,2650.0 1797.3,2671.7 1798.2,2670.4 1799.2,2667.1 1800.1,2672.1 1801.1,2671.5 1802.0,2668.1 1803.0,2663.2 1803.9,2669.5 1804.9,2669.7 1805.8,2675.5 1806.8,2676.0 1807.7,2668.0 1808.7,2666.1 1809.6,2668.7 1810.6,2669.0 1811.5,2661.0 1812.5,2666.2 1813.4,2668.6 1814.4,2662.8 1815.3,2667.4 1816.3,2666.0 1817.2,2667.3 1818.2,2666.2 1819.2,2670.2 1820.1,2664.7 1821.1,2668.4 1822.0,2658.0 1823.0,2659.6 1823.9,2663.2 1824.9,2665.5 1825.8,2663.2 1826.8,2661.8 1827.7,2667.5 1828.7,2654.5 1829.6,2661.2 1830.6,2662.0 1831.5,2663.3 1832.5,2663.3 1833.4,2662.4 1833.7,2658.6 1834.7,2644.0 1835.3,2644.0 1836.3,2658.6 1837.3,2664.3 1838.2,2657.7 1839.2,2649.4 1840.1,2669.4 1841.1,2660.5 1842.0,2662.9 1843.0,2659.2 1843.9,2668.9 1844.9,2659.3 1845.8,2661.1 1846.8,2661.0 1847.7,2663.2 1848.7,2658.5 1849.6,2661.9 1850.6,2658.1 1851.5,2658.4 1852.5,2648.2 1853.4,2652.4 1854.4,2659.3 1855.3,2657.8 1856.3,2664.9 1857.3,2658.5 1858.2,2659.7 1859.2,2659.0 1860.1,2655.1 1861.1,2653.4 1862.0,2655.0 1863.0,2654.0 1863.9,2658.1 1864.7,2655.4 1865.7,2623.0 1866.3,2623.0 1867.3,2655.4 1867.7,2655.4 1868.7,2656.5 1869.6,2659.4 1870.6,2652.2 1871.5,2656.9 1872.5,2652.5 1873.4,2653.6 1874.4,2654.0 1875.4,2652.7 1876.3,2654.6 1877.3,2660.3 1878.2,2655.7 1879.2,2651.9 1880.1,2655.4 1881.1,2653.4 1882.0,2653.6 1883.0,2649.8 1883.7,2648.9 1884.7,2626.0 1885.3,2626.0 1886.3,2648.9 1886.8,2655.1 1887.7,2650.8 1888.7,2648.6 1889.6,2650.5 1890.6,2651.0 1891.5,2656.0 1892.5,2648.9 1893.5,2645.9 1894.4,2648.3 1895.4,2646.6 1896.3,2645.8 1897.3,2655.7 1898.2,2649.9 1899.2,2643.7 1900.1,2644.4 1901.1,2645.9 1902.0,2647.7 1903.0,2646.4 1903.9,2644.5 1904.9,2645.9 1905.8,2648.8 1906.8,2649.3 1907.7,2643.8 1908.7,2656.4 1909.6,2645.5 1910.6,2644.8 1911.5,2652.0 1912.5,2642.5" fill="none" stroke="#3a3a3a" stroke-width="2.3" stroke-linejoin="round"/><polyline points="388.5,2791.5 396.1,2791.5 403.7,2791.4 411.4,2791.4 419.0,2791.3 426.6,2791.3 434.2,2791.3 441.8,2791.2 449.5,2791.2 457.1,2791.1 464.7,2791.0 472.3,2791.0 479.9,2790.9 487.6,2790.9 495.2,2790.8 502.8,2790.7 510.4,2790.6 518.0,2790.6 525.7,2790.5 533.3,2790.4 540.9,2790.3 548.5,2790.2 556.1,2790.2 563.8,2790.1 571.4,2790.0 579.0,2789.9 586.6,2789.8 594.2,2789.7 601.9,2789.5 609.5,2789.4 617.1,2789.3 624.7,2789.2 632.3,2789.1 640.0,2788.9 647.6,2788.8 655.2,2788.7 662.8,2788.5 670.4,2788.4 678.1,2788.2 685.7,2788.1 693.3,2787.9 700.9,2787.7 708.5,2787.5 716.2,2787.4 723.8,2787.2 731.4,2787.0 739.0,2786.8 746.6,2786.6 754.3,2786.4 761.9,2786.2 769.5,2786.0 777.1,2785.8 784.7,2785.5 792.4,2785.3 800.0,2785.0 807.6,2784.8 815.2,2784.5 822.8,2784.3 830.5,2784.0 838.1,2783.7 845.7,2783.5 853.3,2783.2 860.9,2782.9 868.6,2782.6 876.2,2782.3 883.8,2782.0 891.4,2781.6 899.0,2781.3 906.7,2781.0 914.3,2780.6 921.9,2780.3 929.5,2779.9 937.1,2779.5 944.8,2779.2 952.4,2778.8 960.0,2778.4 967.6,2778.0 975.2,2777.6 982.9,2777.1 990.5,2776.7 998.1,2776.3 1005.7,2775.8 1013.3,2775.4 1021.0,2774.9 1028.6,2774.4 1036.2,2774.0 1043.8,2773.5 1051.4,2773.0 1059.1,2772.5 1066.7,2771.9 1074.3,2771.4 1081.9,2770.9 1089.5,2770.3 1097.2,2769.8 1104.8,2769.2 1112.4,2768.6 1120.0,2768.0 1127.6,2767.4 1135.3,2766.8 1142.9,2766.2 1150.5,2765.6 1158.1,2764.9 1165.7,2764.3 1173.4,2763.6 1181.0,2762.9 1188.6,2762.2 1196.2,2761.6 1203.8,2760.9 1211.5,2760.1 1219.1,2759.4 1226.7,2758.7 1234.3,2757.9 1241.9,2757.2 1249.6,2756.4 1257.2,2755.6 1264.8,2754.8 1272.4,2754.0 1280.0,2753.2 1287.7,2752.4 1295.3,2751.5 1302.9,2750.7 1310.5,2749.8 1318.1,2748.9 1325.8,2748.1 1333.4,2747.2 1341.0,2746.3 1348.6,2745.3 1356.2,2744.4 1363.9,2743.5 1371.5,2742.5 1379.1,2741.5 1386.7,2740.6 1394.3,2739.6 1402.0,2738.6 1409.6,2737.6 1417.2,2736.5 1424.8,2735.5 1432.4,2734.5 1440.1,2733.4 1447.7,2732.3 1455.3,2731.2 1462.9,2730.1 1470.5,2729.0 1478.2,2727.9 1485.8,2726.8 1493.4,2725.6 1501.0,2724.5 1508.6,2723.3 1516.3,2722.1 1523.9,2720.9 1531.5,2719.7 1539.1,2718.5 1546.7,2717.3 1554.4,2716.0 1562.0,2714.8 1569.6,2713.5 1577.2,2712.3 1584.8,2711.0 1592.5,2709.7 1600.1,2708.4 1607.7,2707.0 1615.3,2705.7 1622.9,2704.4 1630.6,2703.0 1638.2,2701.6 1645.8,2700.2 1653.4,2698.9 1661.0,2697.5 1668.7,2696.0 1676.3,2694.6 1683.9,2693.2 1691.5,2691.7 1699.1,2690.3 1706.8,2688.8 1714.4,2687.3 1722.0,2685.8 1729.6,2684.3 1737.2,2682.8 1744.9,2681.3 1752.5,2679.7 1760.1,2678.2 1767.7,2676.6 1775.3,2675.0 1783.0,2673.5 1790.6,2671.9 1798.2,2670.3 1805.8,2668.7 1813.4,2667.0 1821.1,2665.4 1828.7,2663.7 1836.3,2662.1 1843.9,2660.4 1851.5,2658.7 1859.2,2657.1 1866.8,2655.4 1874.4,2653.7 1882.0,2651.9 1889.6,2650.2 1897.3,2648.5 1904.9,2646.7 1912.5,2645.0" fill="none" stroke="#dd2a2a" stroke-width="6.5" stroke-linejoin="round"/><path d="M388.5,2792.2 V2043.8 H1912.5 V2792.2 H388.5" fill="none" stroke="#1e1e1e" stroke-width="4.6"/><polyline points="388.5,2791.5 396.1,2791.5 403.7,2791.4 411.4,2791.4 419.0,2791.3 426.6,2791.3 434.2,2791.3 441.8,2791.2 449.5,2791.2 457.1,2791.1 464.7,2791.0 472.3,2791.0 479.9,2790.9 487.6,2790.9 495.2,2790.8 502.8,2790.7 510.4,2790.6 518.0,2790.6 525.7,2790.5 533.3,2790.4 540.9,2790.3 548.5,2790.2 556.1,2790.2 563.8,2790.1 571.4,2790.0 579.0,2789.9 586.6,2789.8 594.2,2789.7 601.9,2789.5 609.5,2789.4 617.1,2789.3 624.7,2789.2 632.3,2789.1 640.0,2788.9 647.6,2788.8 655.2,2788.7 662.8,2788.5 670.4,2788.4 678.1,2788.2 685.7,2788.1 693.3,2787.9 700.9,2787.7 708.5,2787.5 716.2,2787.4 723.8,2787.2 731.4,2787.0 739.0,2786.8 746.6,2786.6 754.3,2786.4 761.9,2786.2 769.5,2786.0 777.1,2785.8 784.7,2785.5 792.4,2785.3 800.0,2785.0 807.6,2784.8 815.2,2784.5 822.8,2784.3 830.5,2784.0 838.1,2783.7 845.7,2783.5 853.3,2783.2 860.9,2782.9 868.6,2782.6 876.2,2782.3 883.8,2782.0 891.4,2781.6 899.0,2781.3 906.7,2781.0 914.3,2780.6 921.9,2780.3 929.5,2779.9 937.1,2779.5 944.8,2779.2 952.4,2778.8 960.0,2778.4 967.6,2778.0 975.2,2777.6 982.9,2777.1 990.5,2776.7 998.1,2776.3 1005.7,2775.8 1013.3,2775.4 1021.0,2774.9 1028.6,2774.4 1036.2,2774.0 1043.8,2773.5 1051.4,2773.0 1059.1,2772.5 1066.7,2771.9 1074.3,2771.4 1081.9,2770.9 1089.5,2770.3 1097.2,2769.8 1104.8,2769.2 1112.4,2768.6 1120.0,2768.0 1127.6,2767.4 1135.3,2766.8 1142.9,2766.2 1150.5,2765.6 1158.1,2764.9 1165.7,2764.3 1173.4,2763.6 1181.0,2762.9 1188.6,2762.2 1196.2,2761.6 1203.8,2760.9 1211.5,2760.1 1219.1,2759.4 1226.7,2758.7 1234.3,2757.9 1241.9,2757.2 1249.6,2756.4 1257.2,2755.6 1264.8,2754.8 1272.4,2754.0 1280.0,2753.2 1287.7,2752.4 1295.3,2751.5 1302.9,2750.7 1310.5,2749.8 1318.1,2748.9 1325.8,2748.1 1333.4,2747.2 1341.0,2746.3 1348.6,2745.3 1356.2,2744.4 1363.9,2743.5 1371.5,2742.5 1379.1,2741.5 1386.7,2740.6 1394.3,2739.6 1402.0,2738.6 1409.6,2737.6 1417.2,2736.5 1424.8,2735.5 1432.4,2734.5 1440.1,2733.4 1447.7,2732.3 1455.3,2731.2 1462.9,2730.1 1470.5,2729.0 1478.2,2727.9 1485.8,2726.8 1493.4,2725.6 1501.0,2724.5 1508.6,2723.3 1516.3,2722.1 1523.9,2720.9 1531.5,2719.7 1539.1,2718.5 1546.7,2717.3 1554.4,2716.0 1562.0,2714.8 1569.6,2713.5 1577.2,2712.3 1584.8,2711.0 1592.5,2709.7 1600.1,2708.4 1607.7,2707.0 1615.3,2705.7 1622.9,2704.4 1630.6,2703.0 1638.2,2701.6 1645.8,2700.2 1653.4,2698.9 1661.0,2697.5 1668.7,2696.0 1676.3,2694.6 1683.9,2693.2 1691.5,2691.7 1699.1,2690.3 1706.8,2688.8 1714.4,2687.3 1722.0,2685.8 1729.6,2684.3 1737.2,2682.8 1744.9,2681.3 1752.5,2679.7 1760.1,2678.2 1767.7,2676.6 1775.3,2675.0 1783.0,2673.5 1790.6,2671.9 1798.2,2670.3 1805.8,2668.7 1813.4,2667.0 1821.1,2665.4 1828.7,2663.7 1836.3,2662.1 1843.9,2660.4 1851.5,2658.7 1859.2,2657.1 1866.8,2655.4 1874.4,2653.7 1882.0,2651.9 1889.6,2650.2 1897.3,2648.5 1904.9,2646.7 1912.5,2645.0" fill="none" stroke="#dd2a2a" stroke-opacity="0.45" stroke-width="6.5" stroke-linejoin="round"/><line x1="362.5" y1="2792.2" x2="388.5" y2="2792.2" stroke="#1e1e1e" stroke-width="4.4"/><line x1="375.5" y1="2738.7" x2="388.5" y2="2738.7" stroke="#1e1e1e" stroke-width="4.4"/><line x1="362.5" y1="2685.3" x2="388.5" y2="2685.3" stroke="#1e1e1e" stroke-width="4.4"/><line x1="375.5" y1="2631.8" x2="388.5" y2="2631.8" stroke="#1e1e1e" stroke-width="4.4"/><line x1="362.5" y1="2578.4" x2="388.5" y2="2578.4" stroke="#1e1e1e" stroke-width="4.4"/><line x1="375.5" y1="2524.9" x2="388.5" y2="2524.9" stroke="#1e1e1e" stroke-width="4.4"/><line x1="362.5" y1="2471.5" x2="388.5" y2="2471.5" stroke="#1e1e1e" stroke-width="4.4"/><line x1="375.5" y1="2418.0" x2="388.5" y2="2418.0" stroke="#1e1e1e" stroke-width="4.4"/><line x1="362.5" y1="2364.5" x2="388.5" y2="2364.5" stroke="#1e1e1e" stroke-width="4.4"/><line x1="375.5" y1="2311.1" x2="388.5" y2="2311.1" stroke="#1e1e1e" stroke-width="4.4"/><line x1="362.5" y1="2257.6" x2="388.5" y2="2257.6" stroke="#1e1e1e" stroke-width="4.4"/><line x1="375.5" y1="2204.2" x2="388.5" y2="2204.2" stroke="#1e1e1e" stroke-width="4.4"/><line x1="362.5" y1="2150.7" x2="388.5" y2="2150.7" stroke="#1e1e1e" stroke-width="4.4"/><line x1="375.5" y1="2097.3" x2="388.5" y2="2097.3" stroke="#1e1e1e" stroke-width="4.4"/><line x1="362.5" y1="2043.8" x2="388.5" y2="2043.8" stroke="#1e1e1e" stroke-width="4.4"/><line x1="388.5" y1="2792.2" x2="388.5" y2="2819.2" stroke="#1e1e1e" stroke-width="4.4"/><line x1="483.8" y1="2792.2" x2="483.8" y2="2807.2" stroke="#1e1e1e" stroke-width="4.4"/><line x1="579.0" y1="2792.2" x2="579.0" y2="2819.2" stroke="#1e1e1e" stroke-width="4.4"/><line x1="674.2" y1="2792.2" x2="674.2" y2="2807.2" stroke="#1e1e1e" stroke-width="4.4"/><line x1="769.5" y1="2792.2" x2="769.5" y2="2819.2" stroke="#1e1e1e" stroke-width="4.4"/><line x1="864.8" y1="2792.2" x2="864.8" y2="2807.2" stroke="#1e1e1e" stroke-width="4.4"/><line x1="960.0" y1="2792.2" x2="960.0" y2="2819.2" stroke="#1e1e1e" stroke-width="4.4"/><line x1="1055.2" y1="2792.2" x2="1055.2" y2="2807.2" stroke="#1e1e1e" stroke-width="4.4"/><line x1="1150.5" y1="2792.2" x2="1150.5" y2="2819.2" stroke="#1e1e1e" stroke-width="4.4"/><line x1="1245.8" y1="2792.2" x2="1245.8" y2="2807.2" stroke="#1e1e1e" stroke-width="4.4"/><line x1="1341.0" y1="2792.2" x2="1341.0" y2="2819.2" stroke="#1e1e1e" stroke-width="4.4"/><line x1="1436.2" y1="2792.2" x2="1436.2" y2="2807.2" stroke="#1e1e1e" stroke-width="4.4"/><line x1="1531.5" y1="2792.2" x2="1531.5" y2="2819.2" stroke="#1e1e1e" stroke-width="4.4"/><line x1="1626.8" y1="2792.2" x2="1626.8" y2="2807.2" stroke="#1e1e1e" stroke-width="4.4"/><line x1="1722.0" y1="2792.2" x2="1722.0" y2="2819.2" stroke="#1e1e1e" stroke-width="4.4"/><line x1="1817.2" y1="2792.2" x2="1817.2" y2="2807.2" stroke="#1e1e1e" stroke-width="4.4"/><line x1="1912.5" y1="2792.2" x2="1912.5" y2="2819.2" stroke="#1e1e1e" stroke-width="4.4"/><text transform="translate(346.5,2805.7) scale(1,1.035)" font-size="67" text-anchor="end" fill="#1a1a1a">0</text><text transform="translate(327.5,2710.3) scale(1,1.035)" font-size="67" text-anchor="end" fill="#1a1a1a">1x10</text><text transform="translate(328.0,2677.3) scale(1,1.035)" font-size="40" fill="#4a4a4a">8</text><text transform="translate(327.5,2603.4) scale(1,1.035)" font-size="67" text-anchor="end" fill="#1a1a1a">2x10</text><text transform="translate(328.0,2570.4) scale(1,1.035)" font-size="40" fill="#4a4a4a">8</text><text transform="translate(327.5,2496.5) scale(1,1.035)" font-size="67" text-anchor="end" fill="#1a1a1a">3x10</text><text transform="translate(328.0,2463.5) scale(1,1.035)" font-size="40" fill="#4a4a4a">8</text><text transform="translate(327.5,2389.5) scale(1,1.035)" font-size="67" text-anchor="end" fill="#1a1a1a">4x10</text><text transform="translate(328.0,2356.5) scale(1,1.035)" font-size="40" fill="#4a4a4a">8</text><text transform="translate(327.5,2282.6) scale(1,1.035)" font-size="67" text-anchor="end" fill="#1a1a1a">5x10</text><text transform="translate(328.0,2249.6) scale(1,1.035)" font-size="40" fill="#4a4a4a">8</text><text transform="translate(327.5,2175.7) scale(1,1.035)" font-size="67" text-anchor="end" fill="#1a1a1a">6x10</text><text transform="translate(328.0,2142.7) scale(1,1.035)" font-size="40" fill="#4a4a4a">8</text><text transform="translate(327.5,2068.8) scale(1,1.035)" font-size="67" text-anchor="end" fill="#1a1a1a">7x10</text><text transform="translate(328.0,2035.8) scale(1,1.035)" font-size="40" fill="#4a4a4a">8</text><text transform="translate(388.5,2885.7) scale(1,1.035)" font-size="67" text-anchor="middle" fill="#1a1a1a">500</text><text transform="translate(579.0,2885.7) scale(1,1.035)" font-size="67" text-anchor="middle" fill="#1a1a1a">550</text><text transform="translate(769.5,2885.7) scale(1,1.035)" font-size="67" text-anchor="middle" fill="#1a1a1a">600</text><text transform="translate(960.0,2885.7) scale(1,1.035)" font-size="67" text-anchor="middle" fill="#1a1a1a">650</text><text transform="translate(1150.5,2885.7) scale(1,1.035)" font-size="67" text-anchor="middle" fill="#1a1a1a">700</text><text transform="translate(1341.0,2885.7) scale(1,1.035)" font-size="67" text-anchor="middle" fill="#1a1a1a">750</text><text transform="translate(1531.5,2885.7) scale(1,1.035)" font-size="67" text-anchor="middle" fill="#1a1a1a">800</text><text transform="translate(1722.0,2885.7) scale(1,1.035)" font-size="67" text-anchor="middle" fill="#1a1a1a">850</text><text transform="translate(1912.5,2885.7) scale(1,1.035)" font-size="67" text-anchor="middle" fill="#1a1a1a">900</text><text transform="translate(1150.5,2977.0) scale(1,1.035)" font-size="72" text-anchor="middle" fill="#1a1a1a">Wavelength (nm)</text><text transform="translate(143.0,2472.0) rotate(-90) scale(1,1.035)" font-size="72" text-anchor="middle" fill="#1a1a1a">Intensity (W/m<tspan font-size="42" dy="-34">3</tspan><tspan dy="34">/sr)</tspan></text><line x1="401" y1="2097" x2="562" y2="2097" stroke="#7c7c7c" stroke-width="3"/><line x1="401" y1="2183.5" x2="562" y2="2183.5" stroke="#dd2a2a" stroke-width="6"/><text transform="translate(578.0,2120.0) scale(1,1.035)" font-size="71.5" fill="#1a1a1a">Spectral radiant intensity of measrued</text><text transform="translate(578.0,2208.0) scale(1,1.035)" font-size="71.5" fill="#1a1a1a">Spectral radiant intensity of re<tspan dy="5">_</tspan><tspan dy="-5">calculated</tspan></text><text transform="translate(447.5,2360.0) scale(1,1.035)" font-size="71.5" fill="#1a1a1a">Capacity 35.83 ton/h</text></g>
</svg></body></html>
